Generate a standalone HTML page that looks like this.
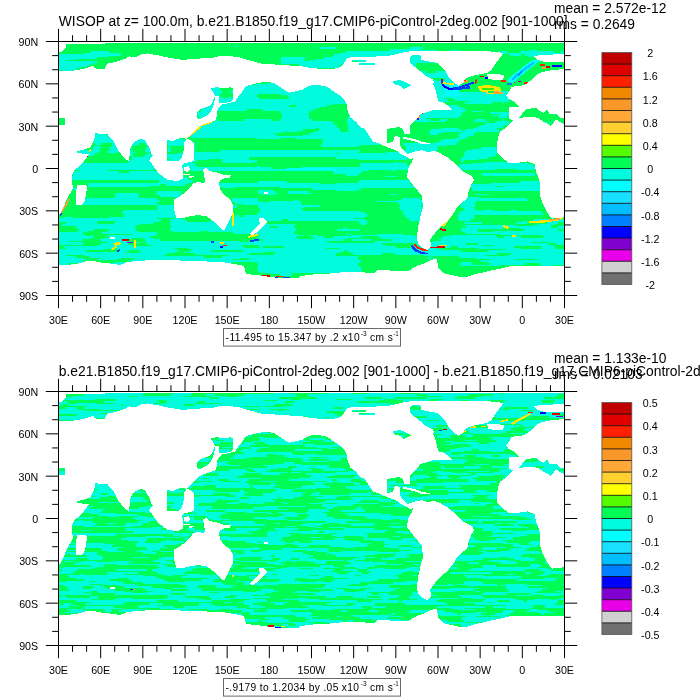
<!DOCTYPE html>
<html><head><meta charset="utf-8"><style>
html,body{margin:0;padding:0;background:#fff;width:700px;height:700px;overflow:hidden}
svg{display:block}
</style></head><body>
<svg width="700" height="700" viewBox="0 0 700 700" >
<rect width="700" height="700" fill="#fff"/>
<g transform="translate(0,0)"><svg x="59" y="42" width="505.5" height="253.5" viewBox="59 42 505.5 253.5" overflow="hidden" shape-rendering="crispEdges"><defs><clipPath id="Tt0"><rect x="59" y="42" width="100" height="80"/></clipPath><clipPath id="Tt1"><rect x="159" y="42" width="100" height="80"/></clipPath><clipPath id="Tt2"><rect x="259" y="42" width="100" height="80"/></clipPath><clipPath id="Tt3"><rect x="359" y="42" width="100" height="80"/></clipPath><clipPath id="Tt4"><rect x="459" y="42" width="107" height="80"/></clipPath><clipPath id="Tt5"><rect x="59" y="120" width="100" height="80"/></clipPath><clipPath id="Tt6"><rect x="159" y="120" width="100" height="80"/></clipPath><clipPath id="Tt7"><rect x="259" y="120" width="100" height="80"/></clipPath><clipPath id="Tt8"><rect x="359" y="120" width="100" height="80"/></clipPath><clipPath id="Tt9"><rect x="459" y="120" width="107" height="80"/></clipPath><clipPath id="Tt10"><rect x="59" y="198" width="100" height="80"/></clipPath><clipPath id="Tt11"><rect x="159" y="198" width="100" height="80"/></clipPath><clipPath id="Tt12"><rect x="259" y="198" width="100" height="80"/></clipPath><clipPath id="Tt13"><rect x="359" y="198" width="100" height="80"/></clipPath><clipPath id="Tt14"><rect x="459" y="198" width="107" height="80"/></clipPath><mask id="Tm" maskUnits="userSpaceOnUse" x="0" y="0" width="700" height="700"><rect x="0" y="0" width="700" height="700" fill="#fff"/><polygon points="211.1,88.4 217.6,87.0 220.4,88.4 230.4,87.4 233.0,88.0 233.0,99.0 231.0,101.5 222.0,103.5 219.0,103.0 218.5,96.0 215.0,96.0 213.0,92.0 211.0,89.0" fill="#000"/><polygon points="215.5,96.0 214.5,101.0 213.5,105.0 212.0,109.0 210.0,112.5 207.0,115.5 203.0,117.5 199.0,119.5 197.0,118.0 197.0,113.0 200.0,109.0 204.0,108.0 209.0,106.0 212.0,103.0 214.0,98.0" fill="#000"/><polygon points="167.0,140.0 173.0,141.0 180.0,138.0 185.0,138.0 186.0,140.0 184.0,143.0 183.7,150.0 182.0,157.0 179.0,160.7 167.0,160.7" fill="#000"/><polygon points="392.9,81.4 400.0,80.0 407.1,82.9 411.4,85.7 407.1,87.1 404.3,89.3 400.0,85.7 394.3,84.3" fill="#000"/><polygon points="352.0,60.5 366.0,60.3 366.0,61.5 352.0,61.7" fill="#000"/><polygon points="359.0,63.4 375.0,63.2 375.0,64.6 359.0,64.8" fill="#000"/><polygon points="519.3,117.7 525.4,109.6 535.6,107.5 538.6,110.6 543.7,112.6 547.7,109.6 549.8,114.6 555.9,113.6 559.9,117.7 566.0,117.7 566.0,124.8 555.9,119.7 550.8,125.8 543.7,121.7 537.6,117.7 530.5,116.7 521.4,117.7" fill="#000"/><polygon points="58.0,117.7 64.7,117.7 64.7,124.9 58.0,124.9" fill="#000"/></mask></defs><rect x="58" y="41" width="508" height="256" fill="#00fc55"/><path d="M304.8 41.60h4.2v1.41h-4.2zM233.1 45.83h4.2v1.41h-4.2zM318.8 47.24h16.9v1.41h-16.9zM410.2 47.24h12.6v1.41h-12.6zM390.5 48.66h29.5v1.41h-29.5zM389.1 50.07h46.4v1.41h-46.4zM450.9 50.07h7.0v1.41h-7.0zM529.7 50.07h7.0v1.41h-7.0zM91.1 51.48h18.3v1.41h-18.3zM345.5 51.48h113.8v1.41h-113.8zM498.7 51.48h8.4v1.41h-8.4zM521.2 51.48h32.3v1.41h-32.3zM560.6 51.48h4.2v1.41h-4.2zM84.1 52.89h35.1v1.41h-35.1zM338.5 52.89h119.5v1.41h-119.5zM497.3 52.89h67.5v1.41h-67.5zM58.8 54.30h61.8v1.41h-61.8zM334.3 54.30h123.7v1.41h-123.7zM510.0 54.30h11.2v1.41h-11.2zM525.4 54.30h39.4v1.41h-39.4zM58.8 55.71h50.6v1.41h-50.6zM331.5 55.71h127.9v1.41h-127.9zM528.3 55.71h36.5v1.41h-36.5zM58.8 57.12h37.9v1.41h-37.9zM280.9 57.12h23.9v1.41h-23.9zM324.4 57.12h133.5v1.41h-133.5zM58.8 58.53h16.9v1.41h-16.9zM280.9 58.53h23.9v1.41h-23.9zM317.4 58.53h140.6v1.41h-140.6zM58.8 59.94h7.0v1.41h-7.0zM280.9 59.94h22.5v1.41h-22.5zM310.4 59.94h147.6v1.41h-147.6zM58.8 61.36h37.9v1.41h-37.9zM280.9 61.36h67.5v1.41h-67.5zM358.2 61.36h101.2v1.41h-101.2zM58.8 62.77h35.1v1.41h-35.1zM280.9 62.77h66.1v1.41h-66.1zM358.2 62.77h57.6v1.41h-57.6zM439.7 62.77h18.3v1.41h-18.3zM58.8 64.18h30.9v1.41h-30.9zM235.9 64.18h11.2v1.41h-11.2zM299.1 64.18h42.2v1.41h-42.2zM359.6 64.18h56.2v1.41h-56.2zM442.5 64.18h16.9v1.41h-16.9zM58.8 65.59h26.7v1.41h-26.7zM238.7 65.59h16.9v1.41h-16.9zM304.8 65.59h33.7v1.41h-33.7zM363.8 65.59h4.2v1.41h-4.2zM376.5 65.59h39.4v1.41h-39.4zM441.1 65.59h19.7v1.41h-19.7zM58.8 67.00h22.5v1.41h-22.5zM306.2 67.00h32.3v1.41h-32.3zM443.9 67.00h14.1v1.41h-14.1zM58.8 68.41h18.3v1.41h-18.3zM446.7 68.41h11.2v1.41h-11.2zM61.6 69.82h11.2v1.41h-11.2zM414.4 69.82h2.8v1.41h-2.8zM445.3 69.82h12.6v1.41h-12.6zM106.6 71.23h1.4v1.41h-1.4zM411.6 71.23h14.1v1.41h-14.1zM435.5 71.23h22.5v1.41h-22.5zM413.0 72.64h45.0v1.41h-45.0zM413.0 74.06h46.4v1.41h-46.4zM414.4 75.47h45.0v1.41h-45.0zM411.6 76.88h46.4v1.41h-46.4zM389.1 78.29h42.2v1.41h-42.2zM445.3 78.29h12.6v1.41h-12.6zM390.5 79.70h46.4v1.41h-46.4zM443.9 79.70h12.6v1.41h-12.6zM71.4 81.11h8.4v1.41h-8.4zM391.9 81.11h66.1v1.41h-66.1zM68.6 82.52h18.3v1.41h-18.3zM266.8 82.52h92.8v1.41h-92.8zM391.9 82.52h67.5v1.41h-67.5zM255.6 83.93h105.4v1.41h-105.4zM391.9 83.93h68.9v1.41h-68.9zM213.4 85.34h4.2v1.41h-4.2zM234.5 85.34h125.1v1.41h-125.1zM389.1 85.34h71.7v1.41h-71.7zM207.8 86.76h14.1v1.41h-14.1zM235.9 86.76h122.3v1.41h-122.3zM390.5 86.76h68.9v1.41h-68.9zM210.6 88.17h9.8v1.41h-9.8zM233.1 88.17h123.7v1.41h-123.7zM391.9 88.17h66.1v1.41h-66.1zM75.7 89.58h15.5v1.41h-15.5zM210.6 89.58h9.8v1.41h-9.8zM231.7 89.58h127.9v1.41h-127.9zM398.9 89.58h57.6v1.41h-57.6zM84.1 90.99h8.4v1.41h-8.4zM207.8 90.99h15.5v1.41h-15.5zM228.9 90.99h132.1v1.41h-132.1zM413.0 90.99h46.4v1.41h-46.4zM484.7 90.99h23.9v1.41h-23.9zM210.6 92.40h11.2v1.41h-11.2zM231.7 92.40h129.3v1.41h-129.3zM413.0 92.40h97.0v1.41h-97.0zM212.0 93.81h7.0v1.41h-7.0zM233.1 93.81h23.9v1.41h-23.9zM279.5 93.81h78.7v1.41h-78.7zM411.6 93.81h98.4v1.41h-98.4zM212.0 95.22h8.4v1.41h-8.4zM233.1 95.22h23.9v1.41h-23.9zM286.5 95.22h71.7v1.41h-71.7zM408.8 95.22h101.2v1.41h-101.2zM210.6 96.63h12.6v1.41h-12.6zM228.9 96.63h29.5v1.41h-29.5zM289.3 96.63h68.9v1.41h-68.9zM398.9 96.63h111.0v1.41h-111.0zM82.7 98.04h12.6v1.41h-12.6zM212.0 98.04h47.8v1.41h-47.8zM289.3 98.04h67.5v1.41h-67.5zM411.6 98.04h32.3v1.41h-32.3zM452.4 98.04h57.6v1.41h-57.6zM212.0 99.46h146.2v1.41h-146.2zM414.4 99.46h33.7v1.41h-33.7zM455.2 99.46h53.4v1.41h-53.4zM210.6 100.87h147.6v1.41h-147.6zM417.2 100.87h32.3v1.41h-32.3zM469.2 100.87h39.4v1.41h-39.4zM202.2 102.28h157.4v1.41h-157.4zM465.0 102.28h26.7v1.41h-26.7zM503.0 102.28h1.4v1.41h-1.4zM88.3 103.69h11.2v1.41h-11.2zM199.4 103.69h133.5v1.41h-133.5zM346.9 103.69h11.2v1.41h-11.2zM435.5 103.69h7.0v1.41h-7.0zM197.9 105.10h19.7v1.41h-19.7zM220.4 105.10h68.9v1.41h-68.9zM296.3 105.10h30.9v1.41h-30.9zM351.2 105.10h7.0v1.41h-7.0zM427.1 105.10h30.9v1.41h-30.9zM196.5 106.51h123.7v1.41h-123.7zM349.8 106.51h7.0v1.41h-7.0zM429.9 106.51h32.3v1.41h-32.3zM119.2 107.92h9.8v1.41h-9.8zM197.9 107.92h119.5v1.41h-119.5zM346.9 107.92h12.6v1.41h-12.6zM431.3 107.92h32.3v1.41h-32.3zM522.6 107.92h2.8v1.41h-2.8zM200.8 109.33h46.4v1.41h-46.4zM262.6 109.33h50.6v1.41h-50.6zM348.3 109.33h12.6v1.41h-12.6zM422.8 109.33h43.6v1.41h-43.6zM200.8 110.74h14.1v1.41h-14.1zM280.9 110.74h29.5v1.41h-29.5zM349.8 110.74h9.8v1.41h-9.8zM415.8 110.74h49.2v1.41h-49.2zM472.0 110.74h11.2v1.41h-11.2zM196.5 112.16h19.7v1.41h-19.7zM280.9 112.16h28.1v1.41h-28.1zM349.8 112.16h9.8v1.41h-9.8zM417.2 112.16h45.0v1.41h-45.0zM490.3 112.16h19.7v1.41h-19.7zM196.5 113.57h21.1v1.41h-21.1zM280.9 113.57h26.7v1.41h-26.7zM351.2 113.57h7.0v1.41h-7.0zM373.6 113.57h12.6v1.41h-12.6zM414.4 113.57h47.8v1.41h-47.8zM500.1 113.57h8.4v1.41h-8.4zM197.9 114.98h19.7v1.41h-19.7zM282.3 114.98h26.7v1.41h-26.7zM349.8 114.98h9.8v1.41h-9.8zM413.0 114.98h47.8v1.41h-47.8zM491.7 114.98h18.3v1.41h-18.3zM199.4 116.39h16.9v1.41h-16.9zM282.3 116.39h26.7v1.41h-26.7zM348.3 116.39h12.6v1.41h-12.6zM415.8 116.39h43.6v1.41h-43.6zM498.7 116.39h8.4v1.41h-8.4zM199.4 117.80h16.9v1.41h-16.9zM280.9 117.80h28.1v1.41h-28.1zM348.3 117.80h12.6v1.41h-12.6zM414.4 117.80h11.2v1.41h-11.2zM197.9 119.21h19.7v1.41h-19.7zM244.3 119.21h26.7v1.41h-26.7zM279.5 119.21h32.3v1.41h-32.3zM346.9 119.21h16.9v1.41h-16.9zM413.0 119.21h16.9v1.41h-16.9zM439.7 119.21h7.0v1.41h-7.0zM474.8 119.21h9.8v1.41h-9.8zM501.5 119.21h2.8v1.41h-2.8zM113.6 120.62h4.2v1.41h-4.2zM192.3 120.62h139.1v1.41h-139.1zM345.5 120.62h19.7v1.41h-19.7zM415.8 120.62h29.5v1.41h-29.5zM473.4 120.62h15.5v1.41h-15.5zM497.3 120.62h11.2v1.41h-11.2zM190.9 122.03h142.0v1.41h-142.0zM348.3 122.03h12.6v1.41h-12.6zM494.5 122.03h14.1v1.41h-14.1zM543.7 122.03h8.4v1.41h-8.4zM189.5 123.44h144.8v1.41h-144.8zM348.3 123.44h11.2v1.41h-11.2zM484.7 123.44h23.9v1.41h-23.9zM58.8 124.86h4.2v1.41h-4.2zM189.5 124.86h146.2v1.41h-146.2zM346.9 124.86h15.5v1.41h-15.5zM480.5 124.86h23.9v1.41h-23.9zM553.6 124.86h11.2v1.41h-11.2zM188.1 126.27h149.0v1.41h-149.0zM348.3 126.27h15.5v1.41h-15.5zM477.7 126.27h25.3v1.41h-25.3zM188.1 127.68h126.5v1.41h-126.5zM318.8 127.68h19.7v1.41h-19.7zM348.3 127.68h30.9v1.41h-30.9zM441.1 127.68h16.9v1.41h-16.9zM473.4 127.68h22.5v1.41h-22.5zM189.5 129.09h113.8v1.41h-113.8zM318.8 129.09h21.1v1.41h-21.1zM348.3 129.09h33.7v1.41h-33.7zM431.3 129.09h29.5v1.41h-29.5zM465.0 129.09h33.7v1.41h-33.7zM186.7 130.50h111.0v1.41h-111.0zM317.4 130.50h23.9v1.41h-23.9zM349.8 130.50h32.3v1.41h-32.3zM428.5 130.50h70.3v1.41h-70.3zM189.5 131.91h92.8v1.41h-92.8zM313.2 131.91h67.5v1.41h-67.5zM428.5 131.91h15.5v1.41h-15.5zM462.2 131.91h14.1v1.41h-14.1zM93.9 133.32h11.2v1.41h-11.2zM189.5 133.32h85.7v1.41h-85.7zM309.0 133.32h73.1v1.41h-73.1zM429.9 133.32h8.4v1.41h-8.4zM459.4 133.32h14.1v1.41h-14.1zM92.5 134.73h16.9v1.41h-16.9zM188.1 134.73h88.5v1.41h-88.5zM303.4 134.73h77.3v1.41h-77.3zM458.0 134.73h15.5v1.41h-15.5zM91.1 136.14h22.5v1.41h-22.5zM190.9 136.14h189.7v1.41h-189.7zM459.4 136.14h8.4v1.41h-8.4zM92.5 137.56h22.5v1.41h-22.5zM257.0 137.56h23.9v1.41h-23.9zM296.3 137.56h85.7v1.41h-85.7zM455.2 137.56h9.8v1.41h-9.8zM93.9 138.97h22.5v1.41h-22.5zM129.1 138.97h22.5v1.41h-22.5zM167.0 138.97h15.5v1.41h-15.5zM323.0 138.97h57.6v1.41h-57.6zM443.9 138.97h16.9v1.41h-16.9zM93.9 140.38h22.5v1.41h-22.5zM129.1 140.38h23.9v1.41h-23.9zM164.2 140.38h28.1v1.41h-28.1zM323.0 140.38h56.2v1.41h-56.2zM439.7 140.38h19.7v1.41h-19.7zM92.5 141.79h23.9v1.41h-23.9zM129.1 141.79h21.1v1.41h-21.1zM168.4 141.79h26.7v1.41h-26.7zM323.0 141.79h57.6v1.41h-57.6zM436.9 141.79h19.7v1.41h-19.7zM95.3 143.20h5.6v1.41h-5.6zM112.2 143.20h4.2v1.41h-4.2zM127.7 143.20h11.2v1.41h-11.2zM144.5 143.20h5.6v1.41h-5.6zM168.4 143.20h26.7v1.41h-26.7zM321.6 143.20h57.6v1.41h-57.6zM403.2 143.20h53.4v1.41h-53.4zM112.2 144.61h5.6v1.41h-5.6zM127.7 144.61h7.0v1.41h-7.0zM147.3 144.61h4.2v1.41h-4.2zM168.4 144.61h26.7v1.41h-26.7zM320.2 144.61h40.8v1.41h-40.8zM404.6 144.61h42.2v1.41h-42.2zM93.9 146.02h5.6v1.41h-5.6zM110.8 146.02h8.4v1.41h-8.4zM148.8 146.02h1.4v1.41h-1.4zM186.7 146.02h8.4v1.41h-8.4zM321.6 146.02h35.1v1.41h-35.1zM404.6 146.02h33.7v1.41h-33.7zM92.5 147.43h8.4v1.41h-8.4zM109.4 147.43h11.2v1.41h-11.2zM129.1 147.43h2.8v1.41h-2.8zM145.9 147.43h7.0v1.41h-7.0zM168.4 147.43h2.8v1.41h-2.8zM188.1 147.43h7.0v1.41h-7.0zM406.0 147.43h32.3v1.41h-32.3zM480.5 147.43h18.3v1.41h-18.3zM92.5 148.84h5.6v1.41h-5.6zM110.8 148.84h8.4v1.41h-8.4zM145.9 148.84h7.0v1.41h-7.0zM168.4 148.84h1.4v1.41h-1.4zM188.1 148.84h7.0v1.41h-7.0zM406.0 148.84h32.3v1.41h-32.3zM473.4 148.84h26.7v1.41h-26.7zM78.5 150.26h21.1v1.41h-21.1zM108.0 150.26h11.2v1.41h-11.2zM129.1 150.26h4.2v1.41h-4.2zM144.5 150.26h8.4v1.41h-8.4zM168.4 150.26h2.8v1.41h-2.8zM189.5 150.26h5.6v1.41h-5.6zM220.4 150.26h139.1v1.41h-139.1zM403.2 150.26h33.7v1.41h-33.7zM466.4 150.26h32.3v1.41h-32.3zM77.1 151.67h21.1v1.41h-21.1zM108.0 151.67h9.8v1.41h-9.8zM127.7 151.67h7.0v1.41h-7.0zM147.3 151.67h2.8v1.41h-2.8zM189.5 151.67h168.7v1.41h-168.7zM386.3 151.67h49.2v1.41h-49.2zM465.0 151.67h32.3v1.41h-32.3zM77.1 153.08h18.3v1.41h-18.3zM129.1 153.08h4.2v1.41h-4.2zM176.9 153.08h158.8v1.41h-158.8zM339.9 153.08h68.9v1.41h-68.9zM463.6 153.08h33.7v1.41h-33.7zM85.5 154.49h8.4v1.41h-8.4zM129.1 154.49h4.2v1.41h-4.2zM144.5 154.49h9.8v1.41h-9.8zM167.0 154.49h240.3v1.41h-240.3zM463.6 154.49h32.3v1.41h-32.3zM130.5 155.90h2.8v1.41h-2.8zM143.1 155.90h9.8v1.41h-9.8zM167.0 155.90h241.8v1.41h-241.8zM463.6 155.90h29.5v1.41h-29.5zM131.9 157.31h18.3v1.41h-18.3zM168.4 157.31h80.1v1.41h-80.1zM335.7 157.31h75.9v1.41h-75.9zM460.8 157.31h26.7v1.41h-26.7zM131.9 158.72h19.7v1.41h-19.7zM169.8 158.72h39.4v1.41h-39.4zM221.8 158.72h26.7v1.41h-26.7zM358.2 158.72h49.2v1.41h-49.2zM460.8 158.72h16.9v1.41h-16.9zM129.1 160.13h26.7v1.41h-26.7zM167.0 160.13h29.5v1.41h-29.5zM221.8 160.13h35.1v1.41h-35.1zM460.8 160.13h2.8v1.41h-2.8zM127.7 161.54h32.3v1.41h-32.3zM165.6 161.54h26.7v1.41h-26.7zM223.2 161.54h30.9v1.41h-30.9zM394.7 161.54h4.2v1.41h-4.2zM486.1 161.54h28.1v1.41h-28.1zM72.9 162.96h120.9v1.41h-120.9zM359.6 162.96h47.8v1.41h-47.8zM473.4 162.96h54.8v1.41h-54.8zM72.9 164.37h88.5v1.41h-88.5zM164.2 164.37h30.9v1.41h-30.9zM359.6 164.37h47.8v1.41h-47.8zM459.4 164.37h73.1v1.41h-73.1zM74.3 165.78h87.1v1.41h-87.1zM165.6 165.78h32.3v1.41h-32.3zM255.6 165.78h4.2v1.41h-4.2zM359.6 165.78h49.2v1.41h-49.2zM459.4 165.78h75.9v1.41h-75.9zM72.9 167.19h87.1v1.41h-87.1zM167.0 167.19h104.0v1.41h-104.0zM302.0 167.19h108.2v1.41h-108.2zM459.4 167.19h75.9v1.41h-75.9zM74.3 168.60h80.1v1.41h-80.1zM167.0 168.60h243.2v1.41h-243.2zM462.2 168.60h32.3v1.41h-32.3zM517.0 168.60h18.3v1.41h-18.3zM79.9 170.01h28.1v1.41h-28.1zM169.8 170.01h16.9v1.41h-16.9zM190.9 170.01h178.5v1.41h-178.5zM390.5 170.01h4.2v1.41h-4.2zM74.3 171.42h45.0v1.41h-45.0zM129.1 171.42h32.3v1.41h-32.3zM332.9 171.42h29.5v1.41h-29.5zM72.9 172.83h106.8v1.41h-106.8zM334.3 172.83h25.3v1.41h-25.3zM480.5 172.83h54.8v1.41h-54.8zM72.9 174.24h108.2v1.41h-108.2zM345.5 174.24h12.6v1.41h-12.6zM481.9 174.24h53.4v1.41h-53.4zM71.4 175.66h112.4v1.41h-112.4zM384.9 175.66h11.2v1.41h-11.2zM70.0 177.07h116.7v1.41h-116.7zM70.0 178.48h118.1v1.41h-118.1zM158.6 179.89h35.1v1.41h-35.1zM359.6 179.89h52.0v1.41h-52.0zM158.6 181.30h33.7v1.41h-33.7zM258.4 181.30h28.1v1.41h-28.1zM358.2 181.30h52.0v1.41h-52.0zM519.8 181.30h21.1v1.41h-21.1zM88.3 182.71h99.8v1.41h-99.8zM219.0 182.71h101.2v1.41h-101.2zM337.1 182.71h73.1v1.41h-73.1zM490.3 182.71h52.0v1.41h-52.0zM88.3 184.12h71.7v1.41h-71.7zM165.6 184.12h19.7v1.41h-19.7zM219.0 184.12h192.6v1.41h-192.6zM470.6 184.12h70.3v1.41h-70.3zM88.3 185.53h61.8v1.41h-61.8zM219.0 185.53h194.0v1.41h-194.0zM470.6 185.53h23.9v1.41h-23.9zM503.0 185.53h36.5v1.41h-36.5zM223.2 186.94h11.2v1.41h-11.2zM279.5 186.94h136.3v1.41h-136.3zM472.0 186.94h68.9v1.41h-68.9zM67.2 188.36h11.2v1.41h-11.2zM311.8 188.36h49.2v1.41h-49.2zM472.0 188.36h70.3v1.41h-70.3zM258.4 189.77h14.1v1.41h-14.1zM337.1 189.77h19.7v1.41h-19.7zM472.0 189.77h67.5v1.41h-67.5zM157.2 191.18h23.9v1.41h-23.9zM258.4 191.18h16.9v1.41h-16.9zM287.9 191.18h19.7v1.41h-19.7zM115.0 192.59h22.5v1.41h-22.5zM155.8 192.59h25.3v1.41h-25.3zM258.4 192.59h19.7v1.41h-19.7zM287.9 192.59h25.3v1.41h-25.3zM116.4 194.00h22.5v1.41h-22.5zM157.2 194.00h23.9v1.41h-23.9zM262.6 194.00h12.6v1.41h-12.6zM389.1 194.00h8.4v1.41h-8.4zM474.8 194.00h14.1v1.41h-14.1zM115.0 195.41h23.9v1.41h-23.9zM160.0 195.41h21.1v1.41h-21.1zM113.6 196.82h25.3v1.41h-25.3zM174.1 196.82h19.7v1.41h-19.7zM459.4 196.82h19.7v1.41h-19.7zM79.9 198.23h77.3v1.41h-77.3zM231.7 198.23h26.7v1.41h-26.7zM401.8 198.23h18.3v1.41h-18.3zM458.0 198.23h68.9v1.41h-68.9zM78.5 199.64h80.1v1.41h-80.1zM203.6 199.64h12.6v1.41h-12.6zM231.7 199.64h25.3v1.41h-25.3zM293.5 199.64h4.2v1.41h-4.2zM396.1 199.64h26.7v1.41h-26.7zM458.0 199.64h70.3v1.41h-70.3zM78.5 201.06h81.5v1.41h-81.5zM205.0 201.06h8.4v1.41h-8.4zM231.7 201.06h29.5v1.41h-29.5zM269.6 201.06h30.9v1.41h-30.9zM376.5 201.06h46.4v1.41h-46.4zM459.4 201.06h16.9v1.41h-16.9zM77.1 202.47h80.1v1.41h-80.1zM234.5 202.47h66.1v1.41h-66.1zM397.5 202.47h25.3v1.41h-25.3zM462.2 202.47h12.6v1.41h-12.6zM79.9 203.88h78.7v1.41h-78.7zM241.5 203.88h60.4v1.41h-60.4zM400.3 203.88h22.5v1.41h-22.5zM460.8 203.88h15.5v1.41h-15.5zM157.2 205.29h16.9v1.41h-16.9zM233.1 205.29h4.2v1.41h-4.2zM258.4 205.29h61.8v1.41h-61.8zM400.3 205.29h21.1v1.41h-21.1zM460.8 205.29h14.1v1.41h-14.1zM157.2 206.70h16.9v1.41h-16.9zM233.1 206.70h4.2v1.41h-4.2zM258.4 206.70h46.4v1.41h-46.4zM398.9 206.70h23.9v1.41h-23.9zM460.8 206.70h12.6v1.41h-12.6zM157.2 208.11h16.9v1.41h-16.9zM259.8 208.11h42.2v1.41h-42.2zM400.3 208.11h23.9v1.41h-23.9zM463.6 208.11h11.2v1.41h-11.2zM124.9 209.52h49.2v1.41h-49.2zM259.8 209.52h43.6v1.41h-43.6zM401.8 209.52h19.7v1.41h-19.7zM465.0 209.52h12.6v1.41h-12.6zM481.9 209.52h11.2v1.41h-11.2zM510.0 209.52h5.6v1.41h-5.6zM122.0 210.93h53.4v1.41h-53.4zM259.8 210.93h99.8v1.41h-99.8zM403.2 210.93h19.7v1.41h-19.7zM460.8 210.93h80.1v1.41h-80.1zM122.0 212.34h53.4v1.41h-53.4zM258.4 212.34h106.8v1.41h-106.8zM403.2 212.34h18.3v1.41h-18.3zM459.4 212.34h82.9v1.41h-82.9zM124.9 213.76h50.6v1.41h-50.6zM257.0 213.76h111.0v1.41h-111.0zM403.2 213.76h18.3v1.41h-18.3zM459.4 213.76h84.3v1.41h-84.3zM123.5 215.17h52.0v1.41h-52.0zM234.5 215.17h4.2v1.41h-4.2zM244.3 215.17h122.3v1.41h-122.3zM404.6 215.17h18.3v1.41h-18.3zM458.0 215.17h15.5v1.41h-15.5zM63.0 216.58h9.8v1.41h-9.8zM109.4 216.58h63.2v1.41h-63.2zM212.0 216.58h16.9v1.41h-16.9zM233.1 216.58h130.7v1.41h-130.7zM406.0 216.58h16.9v1.41h-16.9zM458.0 216.58h15.5v1.41h-15.5zM58.8 217.99h98.4v1.41h-98.4zM174.1 217.99h5.6v1.41h-5.6zM210.6 217.99h143.4v1.41h-143.4zM408.8 217.99h11.2v1.41h-11.2zM458.0 217.99h16.9v1.41h-16.9zM58.8 219.40h102.6v1.41h-102.6zM169.8 219.40h15.5v1.41h-15.5zM213.4 219.40h68.9v1.41h-68.9zM287.9 219.40h77.3v1.41h-77.3zM408.8 219.40h11.2v1.41h-11.2zM459.4 219.40h11.2v1.41h-11.2zM532.5 219.40h32.3v1.41h-32.3zM58.8 220.81h39.4v1.41h-39.4zM116.4 220.81h42.2v1.41h-42.2zM171.2 220.81h15.5v1.41h-15.5zM209.2 220.81h52.0v1.41h-52.0zM358.2 220.81h9.8v1.41h-9.8zM413.0 220.81h1.4v1.41h-1.4zM522.6 220.81h42.2v1.41h-42.2zM65.8 222.22h30.9v1.41h-30.9zM113.6 222.22h39.4v1.41h-39.4zM169.8 222.22h92.8v1.41h-92.8zM359.6 222.22h7.0v1.41h-7.0zM463.6 222.22h18.3v1.41h-18.3zM515.6 222.22h11.2v1.41h-11.2zM546.5 222.22h11.2v1.41h-11.2zM61.6 223.63h78.7v1.41h-78.7zM169.8 223.63h125.1v1.41h-125.1zM361.0 223.63h4.2v1.41h-4.2zM538.1 223.63h16.9v1.41h-16.9zM61.6 225.04h74.5v1.41h-74.5zM171.2 225.04h123.7v1.41h-123.7zM462.2 225.04h53.4v1.41h-53.4zM532.5 225.04h18.3v1.41h-18.3zM563.4 225.04h1.4v1.41h-1.4zM75.7 226.46h59.0v1.41h-59.0zM171.2 226.46h98.4v1.41h-98.4zM278.1 226.46h15.5v1.41h-15.5zM466.4 226.46h84.3v1.41h-84.3zM557.8 226.46h7.0v1.41h-7.0zM77.1 227.87h59.0v1.41h-59.0zM169.8 227.87h126.5v1.41h-126.5zM342.7 227.87h4.2v1.41h-4.2zM460.8 227.87h42.2v1.41h-42.2zM521.2 227.87h43.6v1.41h-43.6zM78.5 229.28h15.5v1.41h-15.5zM109.4 229.28h26.7v1.41h-26.7zM169.8 229.28h126.5v1.41h-126.5zM337.1 229.28h22.5v1.41h-22.5zM460.8 229.28h16.9v1.41h-16.9zM524.0 229.28h33.7v1.41h-33.7zM77.1 230.69h9.8v1.41h-9.8zM106.6 230.69h30.9v1.41h-30.9zM172.6 230.69h28.1v1.41h-28.1zM207.8 230.69h85.7v1.41h-85.7zM462.2 230.69h15.5v1.41h-15.5zM493.1 230.69h70.3v1.41h-70.3zM58.8 232.10h23.9v1.41h-23.9zM102.4 232.10h54.8v1.41h-54.8zM233.1 232.10h60.4v1.41h-60.4zM465.0 232.10h99.8v1.41h-99.8zM58.8 233.51h23.9v1.41h-23.9zM131.9 233.51h25.3v1.41h-25.3zM258.4 233.51h39.4v1.41h-39.4zM345.5 233.51h7.0v1.41h-7.0zM376.5 233.51h26.7v1.41h-26.7zM500.1 233.51h64.7v1.41h-64.7zM58.8 234.92h26.7v1.41h-26.7zM108.0 234.92h47.8v1.41h-47.8zM259.8 234.92h43.6v1.41h-43.6zM310.4 234.92h7.0v1.41h-7.0zM352.6 234.92h61.8v1.41h-61.8zM450.9 234.92h45.0v1.41h-45.0zM540.9 234.92h23.9v1.41h-23.9zM58.8 236.33h35.1v1.41h-35.1zM108.0 236.33h42.2v1.41h-42.2zM258.4 236.33h37.9v1.41h-37.9zM313.2 236.33h11.2v1.41h-11.2zM334.3 236.33h26.7v1.41h-26.7zM379.3 236.33h37.9v1.41h-37.9zM442.5 236.33h54.8v1.41h-54.8zM504.4 236.33h16.9v1.41h-16.9zM543.7 236.33h21.1v1.41h-21.1zM58.8 237.74h32.3v1.41h-32.3zM103.8 237.74h28.1v1.41h-28.1zM143.1 237.74h11.2v1.41h-11.2zM257.0 237.74h40.8v1.41h-40.8zM314.6 237.74h33.7v1.41h-33.7zM382.1 237.74h35.1v1.41h-35.1zM438.3 237.74h126.5v1.41h-126.5zM58.8 239.16h23.9v1.41h-23.9zM99.6 239.16h26.7v1.41h-26.7zM144.5 239.16h15.5v1.41h-15.5zM262.6 239.16h80.1v1.41h-80.1zM351.2 239.16h19.7v1.41h-19.7zM391.9 239.16h26.7v1.41h-26.7zM441.1 239.16h123.7v1.41h-123.7zM58.8 240.57h9.8v1.41h-9.8zM102.4 240.57h28.1v1.41h-28.1zM144.5 240.57h95.6v1.41h-95.6zM251.4 240.57h74.5v1.41h-74.5zM373.6 240.57h46.4v1.41h-46.4zM432.7 240.57h132.1v1.41h-132.1zM58.8 241.98h23.9v1.41h-23.9zM108.0 241.98h33.7v1.41h-33.7zM145.9 241.98h182.7v1.41h-182.7zM375.1 241.98h156.0v1.41h-156.0zM549.3 241.98h15.5v1.41h-15.5zM58.8 243.39h23.9v1.41h-23.9zM101.0 243.39h26.7v1.41h-26.7zM147.3 243.39h234.7v1.41h-234.7zM417.2 243.39h49.2v1.41h-49.2zM477.7 243.39h70.3v1.41h-70.3zM556.4 243.39h8.4v1.41h-8.4zM96.8 244.80h35.1v1.41h-35.1zM153.0 244.80h88.5v1.41h-88.5zM258.4 244.80h127.9v1.41h-127.9zM414.4 244.80h68.9v1.41h-68.9zM493.1 244.80h60.4v1.41h-60.4zM64.4 246.21h179.9v1.41h-179.9zM259.8 246.21h2.8v1.41h-2.8zM283.7 246.21h112.4v1.41h-112.4zM411.6 246.21h39.4v1.41h-39.4zM458.0 246.21h56.2v1.41h-56.2zM540.9 246.21h14.1v1.41h-14.1zM65.8 247.62h108.2v1.41h-108.2zM188.1 247.62h137.7v1.41h-137.7zM339.9 247.62h98.4v1.41h-98.4zM477.7 247.62h40.8v1.41h-40.8zM540.9 247.62h15.5v1.41h-15.5zM58.8 249.03h45.0v1.41h-45.0zM117.8 249.03h59.0v1.41h-59.0zM192.3 249.03h248.8v1.41h-248.8zM505.8 249.03h59.0v1.41h-59.0zM58.8 250.44h26.7v1.41h-26.7zM119.2 250.44h9.8v1.41h-9.8zM140.3 250.44h37.9v1.41h-37.9zM189.5 250.44h21.1v1.41h-21.1zM242.9 250.44h101.2v1.41h-101.2zM346.9 250.44h113.8v1.41h-113.8zM487.5 250.44h77.3v1.41h-77.3zM58.8 251.86h66.1v1.41h-66.1zM138.9 251.86h36.5v1.41h-36.5zM183.9 251.86h78.7v1.41h-78.7zM276.7 251.86h63.2v1.41h-63.2zM351.2 251.86h213.6v1.41h-213.6zM58.8 253.27h108.2v1.41h-108.2zM195.1 253.27h5.6v1.41h-5.6zM202.2 253.27h46.4v1.41h-46.4zM273.8 253.27h61.8v1.41h-61.8zM352.6 253.27h29.5v1.41h-29.5zM394.7 253.27h102.6v1.41h-102.6zM511.4 253.27h53.4v1.41h-53.4zM58.8 254.68h7.0v1.41h-7.0zM84.1 254.68h80.1v1.41h-80.1zM227.5 254.68h108.2v1.41h-108.2zM424.2 254.68h61.8v1.41h-61.8zM507.2 254.68h57.6v1.41h-57.6zM58.8 256.09h16.9v1.41h-16.9zM89.7 256.09h113.8v1.41h-113.8zM221.8 256.09h136.3v1.41h-136.3zM428.5 256.09h2.8v1.41h-2.8zM459.4 256.09h105.4v1.41h-105.4zM58.8 257.50h23.9v1.41h-23.9zM99.6 257.50h21.1v1.41h-21.1zM136.1 257.50h104.0v1.41h-104.0zM248.5 257.50h109.6v1.41h-109.6zM427.1 257.50h8.4v1.41h-8.4zM476.2 257.50h88.5v1.41h-88.5zM58.8 258.91h28.1v1.41h-28.1zM96.8 258.91h19.7v1.41h-19.7zM133.3 258.91h98.4v1.41h-98.4zM248.5 258.91h109.6v1.41h-109.6zM490.3 258.91h25.3v1.41h-25.3zM538.1 258.91h26.7v1.41h-26.7zM58.8 260.32h23.9v1.41h-23.9zM129.1 260.32h28.1v1.41h-28.1zM176.9 260.32h184.1v1.41h-184.1zM480.5 260.32h84.3v1.41h-84.3zM58.8 261.73h35.1v1.41h-35.1zM115.0 261.73h50.6v1.41h-50.6zM185.3 261.73h47.8v1.41h-47.8zM257.0 261.73h102.6v1.41h-102.6zM460.8 261.73h9.8v1.41h-9.8zM487.5 261.73h77.3v1.41h-77.3zM58.8 263.14h9.8v1.41h-9.8zM91.1 263.14h77.3v1.41h-77.3zM258.4 263.14h99.8v1.41h-99.8zM460.8 263.14h11.2v1.41h-11.2zM490.3 263.14h35.1v1.41h-35.1zM539.5 263.14h25.3v1.41h-25.3zM89.7 264.56h25.3v1.41h-25.3zM141.7 264.56h9.8v1.41h-9.8zM258.4 264.56h99.8v1.41h-99.8zM459.4 264.56h40.8v1.41h-40.8zM542.3 264.56h9.8v1.41h-9.8zM258.4 265.97h101.2v1.41h-101.2zM257.0 267.38h104.0v1.41h-104.0zM258.4 268.79h104.0v1.41h-104.0zM258.4 270.20h102.6v1.41h-102.6zM259.8 271.61h102.6v1.41h-102.6zM269.6 273.02h21.1v1.41h-21.1zM279.5 274.43h12.6v1.41h-12.6zM332.9 278.67h19.7v1.41h-19.7zM452.4 278.67h9.8v1.41h-9.8zM339.9 280.08h9.8v1.41h-9.8zM453.8 280.08h5.6v1.41h-5.6zM339.9 281.49h5.6v1.41h-5.6zM368.0 281.49h7.0v1.41h-7.0zM338.5 282.90h8.4v1.41h-8.4zM334.3 284.31h11.2v1.41h-11.2zM517.0 287.13h11.2v1.41h-11.2zM524.0 288.54h12.6v1.41h-12.6z" fill="#00fcdc"/><g clip-path="url(#Tt3)"><polygon points="444.7,84.9 459.0,84.9 459.0,96.3 444.7,96.3" fill="#00ffff"/></g><g clip-path="url(#Tt7)"><polygon points="286.1,167.9 334.7,167.9 334.7,170.0 286.1,170.0" fill="#00ffff"/></g><polyline points="455.0,88.8 462.0,86.6 469.0,84.3 474.0,82.5" fill="none" stroke="#0030ff" stroke-width="2.0"/><polygon points="478.0,86.0 488.0,85.0 500.0,87.0 501.0,91.0 496.0,94.0 487.0,93.5 479.0,90.0" fill="#ffe600"/><polygon points="482.0,88.0 494.0,87.5 494.0,89.5 482.0,90.0" fill="#30f000"/><polygon points="488.0,91.0 496.0,90.5 496.0,92.5 488.0,93.0" fill="#00fc55"/><polygon points="494.0,91.0 503.0,92.0 503.0,94.5 494.0,94.0" fill="#ffa030"/><polygon points="478.0,92.5 486.0,92.0 486.0,94.0 478.0,94.5" fill="#00fcdc"/><polygon points="475.0,80.5 477.0,79.0 477.0,83.0 475.0,84.0" fill="#ff2000"/><polygon points="480.0,76.0 484.0,75.5 484.0,77.0 480.0,77.5" fill="#e00000"/><polygon points="485.0,77.5 488.0,77.0 488.0,78.5 485.0,79.0" fill="#0000ff"/><polygon points="501.0,80.0 506.0,80.0 506.0,81.5 501.0,81.5" fill="#ff2000"/><polygon points="511.0,81.0 515.0,81.0 515.0,82.5 511.0,82.5" fill="#e00000"/><polygon points="518.0,80.5 521.0,80.5 521.0,82.0 518.0,82.0" fill="#8000d0"/><polygon points="524.0,82.0 528.0,82.0 528.0,83.5 524.0,83.5" fill="#ff2000"/><polygon points="507.0,83.0 512.0,83.0 512.0,84.5 507.0,84.5" fill="#0080ff"/><polygon points="506.0,81.0 514.0,74.0 524.0,66.0 533.0,59.5 541.0,59.5 532.0,67.0 522.0,75.0 513.0,83.0" fill="#00ffff"/><polygon points="511.0,79.0 518.0,73.0 527.0,66.0 533.0,62.0 535.0,63.0 528.0,68.0 520.0,74.0 513.0,80.0" fill="#00beff"/><polygon points="517.0,75.0 522.0,71.0 523.0,72.0 518.0,76.0" fill="#0080ff"/><polygon points="540.0,64.0 545.0,63.5 545.0,65.5 540.0,66.0" fill="#ff2000"/><polygon points="546.0,66.0 550.0,66.0 550.0,68.0 546.0,68.0" fill="#e00000"/><polygon points="552.0,65.5 562.0,65.0 562.0,67.0 552.0,67.5" fill="#0000ff"/><polygon points="542.0,67.0 546.0,67.0 546.0,69.0 542.0,69.0" fill="#ffa030"/><polygon points="441.0,79.5 443.5,78.8 443.0,82.0 441.0,85.0" fill="#8000d0"/><polygon points="443.0,83.0 445.0,85.5 449.0,87.5 453.0,88.5 453.0,90.0 448.0,89.5 444.0,87.5 442.0,85.0" fill="#0000ff"/><polygon points="453.0,87.5 462.0,87.0 470.0,86.0 470.0,88.5 462.0,89.5 453.0,90.0" fill="#0040ff"/><polygon points="455.0,81.0 462.0,80.5 468.0,79.5 468.0,82.0 462.0,83.0 455.0,83.5" fill="#ffa030"/><polygon points="463.0,79.5 466.0,79.5 466.0,81.0 463.0,81.0" fill="#ff2000"/><polygon points="443.0,82.4 454.0,82.8 454.0,84.6 443.0,84.4" fill="#ffe600"/><polygon points="419.0,79.5 421.0,79.5 421.0,81.0 419.0,81.0" fill="#ff2000"/><polygon points="425.0,80.5 427.0,80.5 427.0,82.0 425.0,82.0" fill="#0000ff"/><polygon points="430.0,81.5 432.0,81.5 432.0,83.0 430.0,83.0" fill="#e800e8"/><polygon points="425.0,109.0 433.0,107.5 433.0,109.5 426.0,111.5" fill="#ffe600"/><polygon points="418.0,112.5 425.0,110.5 424.0,113.0 419.0,115.0" fill="#ff2000"/><polygon points="417.0,115.0 420.0,114.0 420.0,118.0 417.0,119.0" fill="#ffa030"/><polygon points="417.0,118.5 419.0,118.0 419.0,120.0 417.0,120.5" fill="#8000d0"/><polygon points="200.0,124.5 210.0,121.0 215.0,118.5 216.0,120.0 211.0,123.0 201.0,126.5" fill="#ffe600"/><polygon points="206.0,122.0 208.0,121.3 208.0,122.8 206.0,123.5" fill="#ff2000"/><polygon points="188.0,136.0 195.0,130.0 200.0,126.0 201.0,127.5 196.0,131.5 189.0,137.5" fill="#ffe600"/><polygon points="122.0,239.0 129.0,239.0 129.0,240.5 122.0,240.5" fill="#e00000"/><polygon points="127.0,241.5 133.0,241.5 133.0,243.0 127.0,243.0" fill="#8000d0"/><polygon points="113.0,243.0 119.0,242.0 121.0,244.0 115.0,246.0" fill="#ffe600"/><polygon points="111.0,249.0 116.0,246.0 117.0,247.5 112.0,250.5" fill="#ffe600"/><polygon points="117.0,250.0 120.0,249.0 120.0,251.0 117.0,252.0" fill="#0040ff"/><polygon points="134.0,240.0 136.0,240.0 136.0,248.0 134.0,248.0" fill="#ffe600"/><polygon points="211.0,241.0 214.0,241.0 214.0,243.0 211.0,243.0" fill="#0040ff"/><polygon points="220.0,242.0 224.0,242.0 224.0,244.0 220.0,244.0" fill="#ffe600"/><polygon points="223.0,244.5 227.0,244.5 227.0,246.0 223.0,246.0" fill="#ff2000"/><polygon points="220.0,246.0 223.0,246.0 223.0,248.0 220.0,248.0" fill="#0000ff"/><polygon points="248.0,236.0 258.0,234.0 258.0,236.0 248.0,238.0" fill="#ffe600"/><polygon points="250.0,240.0 259.0,239.0 259.0,241.0 250.0,242.0" fill="#0040ff"/><polygon points="232.0,213.0 234.0,213.0 234.0,226.0 232.0,226.0" fill="#ffe600"/><polygon points="246.0,274.5 252.0,274.5 252.0,276.0 246.0,276.0" fill="#e00000"/><polygon points="254.0,276.0 262.0,276.0 262.0,277.5 254.0,277.5" fill="#8000d0"/><polygon points="262.0,275.0 270.0,275.0 270.0,276.5 262.0,276.5" fill="#e00000"/><polygon points="270.0,276.5 278.0,276.5 278.0,278.0 270.0,278.0" fill="#0000ff"/><polygon points="276.0,275.5 283.0,275.5 283.0,277.0 276.0,277.0" fill="#ff2000"/><polygon points="283.0,277.0 290.0,277.0 290.0,278.3 283.0,278.3" fill="#0040ff"/><polygon points="442.0,225.5 452.0,212.0 454.0,212.5 444.0,227.0" fill="#ffe600"/><polygon points="440.0,228.0 446.0,229.5 446.0,231.5 440.0,230.0" fill="#e00000"/><polygon points="415.0,243.0 418.0,247.0 424.0,249.0 428.0,249.5 428.0,251.0 422.0,250.5 416.0,248.0 414.0,245.0" fill="#ff2000"/><polygon points="412.0,244.0 416.0,249.0 422.0,252.0 428.0,253.0 427.0,254.5 420.0,253.5 414.0,251.0 411.0,246.0" fill="#0040ff"/><polygon points="429.0,247.0 445.0,246.0 445.0,247.5 429.0,248.5" fill="#e00000"/><polygon points="439.0,245.0 447.0,244.5 447.0,245.8 439.0,246.2" fill="#ffe600"/><polygon points="529.0,221.5 545.0,220.0 556.0,219.0 563.0,217.0 563.0,219.0 556.0,221.0 545.0,222.5 529.0,223.5" fill="#ffe600"/><polygon points="549.0,219.5 560.0,218.0 560.0,219.5 549.0,221.0" fill="#ffa030"/><polygon points="503.0,225.0 507.0,226.0 509.0,228.0 507.0,229.0 503.0,227.0" fill="#ffe600"/><polygon points="512.0,235.0 516.0,235.0 516.0,236.5 512.0,236.5" fill="#ffe600"/><polygon points="59.0,213.0 62.0,209.0 66.0,203.0 68.0,199.0 69.5,199.5 67.0,205.0 63.0,211.0 60.0,215.0" fill="#ffa030"/><polygon points="59.0,215.0 61.0,213.0 62.0,214.0 60.0,216.0" fill="#0040ff"/><polygon points="88.5,150.5 91.0,148.0 91.5,150.0 89.0,152.0" fill="#ffe600"/><polygon points="86.0,155.0 87.5,155.0 87.5,156.5 86.0,156.5" fill="#e00000"/><g mask="url(#Tm)"><polygon points="58.8,70.6 60.1,70.6 70.4,71.3 85.4,68.4 94.0,65.6 94.7,68.4 104.0,69.4 107.6,63.4 116.1,62.0 126.1,58.4 129.0,56.3 134.7,57.4 141.9,54.1 147.6,53.4 159.0,55.6 164.7,57.0 173.3,58.4 181.9,59.9 191.9,59.1 201.9,58.4 213.3,57.7 219.0,56.3 230.4,56.3 239.0,57.0 247.6,59.9 253.3,61.3 259.0,63.4 270.4,64.1 280.4,64.9 301.9,66.3 309.0,67.7 309.7,85.6 301.9,89.9 296.1,91.3 289.0,92.7 281.9,88.4 273.3,82.7 266.0,82.0 259.0,82.7 250.4,84.9 246.0,86.0 242.0,92.0 238.0,97.0 235.0,101.5 233.5,101.5 231.0,102.5 222.0,104.5 219.0,107.0 217.5,110.0 216.0,120.0 200.0,125.7 188.6,137.1 186.4,138.6 190.0,140.0 194.0,143.0 194.5,150.0 194.0,160.7 190.0,162.0 185.0,163.0 182.0,165.0 182.9,170.0 182.9,178.6 178.6,180.5 172.9,180.5 167.0,179.5 160.6,174.8 157.0,171.0 154.1,167.1 152.0,164.0 149.0,160.7 150.5,158.0 152.9,155.6 151.0,152.9 149.6,148.6 147.4,144.3 145.3,140.7 141.7,138.6 138.9,139.3 133.9,142.1 131.7,145.7 130.0,148.6 129.6,155.7 128.9,160.7 126.7,160.0 123.1,156.4 118.9,151.4 116.0,145.7 113.9,141.4 110.3,137.9 107.4,134.3 98.9,133.6 95.3,132.9 95.3,135.0 93.9,140.0 91.7,144.3 90.3,147.4 84.6,149.3 77.4,151.1 77.4,152.9 88.9,154.3 86.0,158.6 82.4,162.9 78.9,166.4 73.9,170.7 71.7,175.7 71.7,181.4 73.1,187.9 71.0,192.1 68.5,196.0 67.5,197.6 63.6,206.8 59.1,215.2 58.8,215.5" fill="#fff"/><polygon points="301.9,66.3 309.0,67.7 323.3,69.1 337.6,68.4 342.0,66.0 346.0,60.0 347.1,58.0 350.0,57.5 361.4,57.0 375.7,56.5 390.0,55.5 397.1,54.0 405.0,52.0 412.0,51.0 421.0,50.8 421.0,55.0 412.0,55.5 410.0,58.0 410.0,62.9 417.1,68.6 425.7,75.7 433.0,79.5 434.0,82.0 433.0,84.3 435.7,90.0 437.1,97.1 438.6,101.4 444.3,102.9 450.0,107.1 452.9,110.0 433.0,110.0 428.0,112.0 423.0,113.0 420.0,114.0 418.0,118.0 413.0,122.0 410.0,125.0 410.5,133.0 409.0,134.5 404.0,133.5 403.0,129.0 398.5,127.0 387.0,129.0 387.0,143.0 393.0,142.0 395.0,136.0 400.0,137.0 400.0,145.0 403.0,150.0 407.0,154.0 413.0,153.0 411.4,160.0 407.1,157.1 401.4,154.3 395.7,150.0 387.1,147.1 377.1,142.9 372.9,141.4 364.3,128.6 360.0,127.1 355.7,121.4 350.4,117.7 347.6,110.6 346.9,104.9 344.7,100.6 339.0,94.9 333.3,91.3 327.6,87.0 319.0,84.9 309.7,85.6" fill="#fff"/><polygon points="407.0,154.0 413.0,152.0 415.7,151.4 422.0,150.0 427.0,152.0 435.0,151.0 440.0,153.0 445.0,156.0 447.1,157.1 454.3,162.9 462.9,171.4 471.4,175.7 474.3,180.0 471.4,184.3 468.6,191.4 467.1,198.6 461.4,202.9 457.1,207.1 452.9,214.3 447.1,221.4 441.4,225.7 437.1,230.0 432.9,235.7 430.0,240.0 431.4,245.7 427.1,250.0 422.9,247.9 418.6,244.3 416.4,237.1 417.1,235.0 418.6,224.3 420.7,215.7 422.9,207.1 422.1,195.7 417.1,190.0 411.4,182.9 407.1,177.1 407.9,168.6 411.4,162.9 412.9,158.6 411.4,157.0" fill="#fff"/><polygon points="421.4,51.4 434.3,50.7 455.7,51.4 480.0,50.7 498.6,52.1 502.9,53.6 501.4,55.7 497.1,61.4 494.3,65.7 491.4,70.0 487.1,72.9 480.0,74.3 472.9,75.7 465.7,78.6 462.9,82.9 458.6,85.7 454.3,82.9 448.6,77.1 445.7,71.4 441.4,67.1 437.1,62.9 428.6,61.4 421.4,60.0 420.0,54.3" fill="#fff"/><polygon points="487.1,74.3 495.0,73.5 504.3,75.5 503.0,79.5 495.0,80.0 488.0,79.0" fill="#fff"/><polygon points="566.0,69.0 552.0,70.0 542.0,72.0 536.0,75.0 530.0,81.0 526.0,84.0 521.0,86.0 511.2,86.7 510.2,90.3 506.2,95.4 508.2,98.4 515.3,102.5 519.3,106.5 509.2,107.5 508.7,117.7 508.6,118.6 513.1,120.0 508.9,124.3 504.6,128.6 500.3,131.4 498.1,137.1 496.7,145.7 497.4,152.9 503.1,158.6 508.9,162.9 517.4,162.9 527.4,161.4 534.6,164.3 536.0,171.4 538.9,178.6 540.3,185.0 539.6,194.3 543.1,204.3 547.4,212.9 551.7,218.6 563.1,217.4 566.0,217.1" fill="#fff"/><polygon points="534.0,56.5 540.0,55.0 566.0,54.0 566.0,62.0 552.0,62.5 544.0,62.0 538.0,60.0" fill="#fff"/><polygon points="77.4,185.0 84.0,184.5 86.7,186.0 86.6,190.0 85.0,200.0 82.0,205.3 76.0,205.0 76.0,192.0" fill="#fff"/><polygon points="203.0,169.0 206.0,168.0 210.0,171.0 217.0,172.5 224.0,175.0 230.5,175.5 230.0,178.0 224.0,178.5 220.0,180.5 219.0,182.5 220.0,189.3 224.3,195.0 230.0,199.3 232.9,205.0 232.9,213.6 230.0,219.3 227.1,225.0 224.3,230.7 220.0,227.9 214.3,222.1 207.1,216.4 197.1,215.0 190.0,216.4 182.9,217.9 176.4,217.9 174.3,210.7 174.3,199.3 180.0,196.4 187.1,190.7 191.4,186.4 193.0,183.0 198.0,182.0 203.0,183.0 205.0,181.0 204.0,175.0" fill="#fff"/><polygon points="258.6,217.9 263.6,218.1 267.9,222.1 264.3,225.0 258.6,230.7 252.9,235.7 250.0,233.6 254.3,229.3 260.0,223.6" fill="#fff"/><polygon points="58.8,264.9 68.2,264.9 78.9,263.4 86.6,261.1 94.2,261.1 101.9,262.6 109.5,263.4 120.2,264.9 127.9,261.9 135.5,261.1 147.7,260.3 156.0,260.3 170.0,260.0 190.0,261.0 210.0,261.6 222.0,262.0 234.0,264.0 244.0,266.0 246.0,274.0 256.0,275.0 270.0,277.0 280.0,278.0 290.0,278.0 298.9,277.7 300.4,276.1 311.4,274.6 327.1,273.8 342.9,272.2 358.6,272.2 374.3,273.0 377.4,269.9 380.0,270.0 394.3,270.7 408.6,270.7 417.1,265.7 425.7,262.9 431.4,260.0 437.1,258.6 437.1,261.4 438.6,268.6 442.9,272.9 454.3,275.7 460.0,277.1 466.0,277.1 474.6,274.3 487.4,271.4 500.3,268.6 511.7,265.7 526.0,265.7 544.6,265.7 566.0,265.7 566.0,297.0 58.0,297.0" fill="#fff"/><polygon points="403.0,137.0 410.0,138.0 418.0,140.0 422.0,142.0 430.0,143.0 430.0,144.5 421.0,144.0 417.0,142.0 409.0,140.0 403.0,138.5" fill="#fff"/><polygon points="110.3,236.6 114.9,236.6 114.9,239.0 110.3,239.0" fill="#fff"/><polygon points="263.6,192.1 267.9,192.1 267.9,194.3 263.6,194.3" fill="#fff"/><polygon points="58.0,41.0 105.0,41.0 105.0,43.6 66.0,43.6 66.0,47.0 63.0,51.0 58.0,53.0" fill="#fff"/></g><polygon points="183.0,174.0 190.0,173.5 190.0,175.0 183.0,175.5" fill="#fff"/><polygon points="189.0,176.5 194.0,175.5 194.0,177.0 189.0,178.0" fill="#fff"/><polygon points="184.0,167.0 189.0,166.0 190.0,170.0 187.0,172.0 184.0,171.0" fill="#fff"/><rect x="59" y="42" width="506" height="1.4" fill="#fff"/></svg></g><g transform="translate(0,350)"><svg x="59" y="42" width="505.5" height="253.5" viewBox="59 42 505.5 253.5" overflow="hidden" shape-rendering="crispEdges"><defs><mask id="Bm" maskUnits="userSpaceOnUse" x="0" y="0" width="700" height="700"><rect x="0" y="0" width="700" height="700" fill="#fff"/><polygon points="211.1,88.4 217.6,87.0 220.4,88.4 230.4,87.4 233.0,88.0 233.0,99.0 231.0,101.5 222.0,103.5 219.0,103.0 218.5,96.0 215.0,96.0 213.0,92.0 211.0,89.0" fill="#000"/><polygon points="215.5,96.0 214.5,101.0 213.5,105.0 212.0,109.0 210.0,112.5 207.0,115.5 203.0,117.5 199.0,119.5 197.0,118.0 197.0,113.0 200.0,109.0 204.0,108.0 209.0,106.0 212.0,103.0 214.0,98.0" fill="#000"/><polygon points="167.0,140.0 173.0,141.0 180.0,138.0 185.0,138.0 186.0,140.0 184.0,143.0 183.7,150.0 182.0,157.0 179.0,160.7 167.0,160.7" fill="#000"/><polygon points="392.9,81.4 400.0,80.0 407.1,82.9 411.4,85.7 407.1,87.1 404.3,89.3 400.0,85.7 394.3,84.3" fill="#000"/><polygon points="352.0,60.5 366.0,60.3 366.0,61.5 352.0,61.7" fill="#000"/><polygon points="359.0,63.4 375.0,63.2 375.0,64.6 359.0,64.8" fill="#000"/><polygon points="519.3,117.7 525.4,109.6 535.6,107.5 538.6,110.6 543.7,112.6 547.7,109.6 549.8,114.6 555.9,113.6 559.9,117.7 566.0,117.7 566.0,124.8 555.9,119.7 550.8,125.8 543.7,121.7 537.6,117.7 530.5,116.7 521.4,117.7" fill="#000"/><polygon points="58.0,117.7 64.7,117.7 64.7,124.9 58.0,124.9" fill="#000"/></mask></defs><rect x="58" y="41" width="508" height="256" fill="#00fc55"/><path d="M58.8 41.60h18.3v1.41h-18.3zM117.8 41.60h32.3v1.41h-32.3zM168.4 41.60h23.9v1.41h-23.9zM202.2 41.60h29.5v1.41h-29.5zM238.7 41.60h25.3v1.41h-25.3zM306.2 41.60h46.4v1.41h-46.4zM377.9 41.60h21.1v1.41h-21.1zM418.6 41.60h146.2v1.41h-146.2zM58.8 43.01h5.6v1.41h-5.6zM88.3 43.01h56.2v1.41h-56.2zM174.1 43.01h18.3v1.41h-18.3zM273.8 43.01h15.5v1.41h-15.5zM327.3 43.01h25.3v1.41h-25.3zM366.6 43.01h32.3v1.41h-32.3zM418.6 43.01h80.1v1.41h-80.1zM504.4 43.01h60.4v1.41h-60.4zM84.1 44.42h59.0v1.41h-59.0zM171.2 44.42h19.7v1.41h-19.7zM206.4 44.42h8.4v1.41h-8.4zM244.3 44.42h52.0v1.41h-52.0zM307.6 44.42h109.6v1.41h-109.6zM427.1 44.42h40.8v1.41h-40.8zM493.1 44.42h64.7v1.41h-64.7zM72.9 45.83h56.2v1.41h-56.2zM137.5 45.83h45.0v1.41h-45.0zM210.6 45.83h15.5v1.41h-15.5zM237.3 45.83h59.0v1.41h-59.0zM310.4 45.83h112.4v1.41h-112.4zM441.1 45.83h16.9v1.41h-16.9zM481.9 45.83h73.1v1.41h-73.1zM67.2 47.24h142.0v1.41h-142.0zM217.6 47.24h61.8v1.41h-61.8zM316.0 47.24h49.2v1.41h-49.2zM382.1 47.24h12.6v1.41h-12.6zM427.1 47.24h28.1v1.41h-28.1zM476.2 47.24h67.5v1.41h-67.5zM58.8 48.66h36.5v1.41h-36.5zM115.0 48.66h175.7v1.41h-175.7zM300.6 48.66h35.1v1.41h-35.1zM351.2 48.66h32.3v1.41h-32.3zM396.1 48.66h33.7v1.41h-33.7zM442.5 48.66h122.3v1.41h-122.3zM58.8 50.07h4.2v1.41h-4.2zM116.4 50.07h40.8v1.41h-40.8zM167.0 50.07h97.0v1.41h-97.0zM276.7 50.07h102.6v1.41h-102.6zM403.2 50.07h25.3v1.41h-25.3zM436.9 50.07h23.9v1.41h-23.9zM469.2 50.07h18.3v1.41h-18.3zM505.8 50.07h36.5v1.41h-36.5zM555.0 50.07h9.8v1.41h-9.8zM58.8 51.48h8.4v1.41h-8.4zM103.8 51.48h54.8v1.41h-54.8zM167.0 51.48h30.9v1.41h-30.9zM205.0 51.48h80.1v1.41h-80.1zM293.5 51.48h63.2v1.41h-63.2zM403.2 51.48h61.8v1.41h-61.8zM472.0 51.48h16.9v1.41h-16.9zM503.0 51.48h39.4v1.41h-39.4zM553.6 51.48h11.2v1.41h-11.2zM58.8 52.89h9.8v1.41h-9.8zM77.1 52.89h19.7v1.41h-19.7zM113.6 52.89h40.8v1.41h-40.8zM164.2 52.89h30.9v1.41h-30.9zM220.4 52.89h66.1v1.41h-66.1zM287.9 52.89h101.2v1.41h-101.2zM401.8 52.89h163.0v1.41h-163.0zM58.8 54.30h2.8v1.41h-2.8zM68.6 54.30h52.0v1.41h-52.0zM123.5 54.30h60.4v1.41h-60.4zM193.7 54.30h80.1v1.41h-80.1zM292.1 54.30h111.0v1.41h-111.0zM411.6 54.30h23.9v1.41h-23.9zM442.5 54.30h33.7v1.41h-33.7zM490.3 54.30h74.5v1.41h-74.5zM86.9 55.71h157.4v1.41h-157.4zM261.2 55.71h4.2v1.41h-4.2zM285.1 55.71h120.9v1.41h-120.9zM417.2 55.71h63.2v1.41h-63.2zM500.1 55.71h60.4v1.41h-60.4zM65.8 57.12h9.8v1.41h-9.8zM84.1 57.12h43.6v1.41h-43.6zM140.3 57.12h194.0v1.41h-194.0zM342.7 57.12h63.2v1.41h-63.2zM476.2 57.12h12.6v1.41h-12.6zM493.1 57.12h11.2v1.41h-11.2zM528.3 57.12h30.9v1.41h-30.9zM58.8 58.53h19.7v1.41h-19.7zM99.6 58.53h23.9v1.41h-23.9zM140.3 58.53h19.7v1.41h-19.7zM176.9 58.53h70.3v1.41h-70.3zM259.8 58.53h9.8v1.41h-9.8zM289.3 58.53h73.1v1.41h-73.1zM373.6 58.53h37.9v1.41h-37.9zM458.0 58.53h29.5v1.41h-29.5zM508.6 58.53h56.2v1.41h-56.2zM58.8 59.94h26.7v1.41h-26.7zM143.1 59.94h134.9v1.41h-134.9zM283.7 59.94h75.9v1.41h-75.9zM369.4 59.94h54.8v1.41h-54.8zM455.2 59.94h37.9v1.41h-37.9zM495.9 59.94h25.3v1.41h-25.3zM535.3 59.94h29.5v1.41h-29.5zM58.8 61.36h59.0v1.41h-59.0zM140.3 61.36h33.7v1.41h-33.7zM179.7 61.36h18.3v1.41h-18.3zM210.6 61.36h116.7v1.41h-116.7zM369.4 61.36h73.1v1.41h-73.1zM479.1 61.36h85.7v1.41h-85.7zM58.8 62.77h42.2v1.41h-42.2zM112.2 62.77h8.4v1.41h-8.4zM136.1 62.77h18.3v1.41h-18.3zM157.2 62.77h177.1v1.41h-177.1zM366.6 62.77h88.5v1.41h-88.5zM477.7 62.77h87.1v1.41h-87.1zM77.1 64.18h64.7v1.41h-64.7zM160.0 64.18h23.9v1.41h-23.9zM200.8 64.18h136.3v1.41h-136.3zM355.4 64.18h203.8v1.41h-203.8zM58.8 65.59h73.1v1.41h-73.1zM164.2 65.59h21.1v1.41h-21.1zM200.8 65.59h12.6v1.41h-12.6zM228.9 65.59h35.1v1.41h-35.1zM269.6 65.59h35.1v1.41h-35.1zM307.6 65.59h95.6v1.41h-95.6zM425.6 65.59h47.8v1.41h-47.8zM481.9 65.59h47.8v1.41h-47.8zM549.3 65.59h15.5v1.41h-15.5zM58.8 67.00h57.6v1.41h-57.6zM171.2 67.00h14.1v1.41h-14.1zM197.9 67.00h64.7v1.41h-64.7zM289.3 67.00h35.1v1.41h-35.1zM328.7 67.00h49.2v1.41h-49.2zM427.1 67.00h54.8v1.41h-54.8zM495.9 67.00h28.1v1.41h-28.1zM549.3 67.00h15.5v1.41h-15.5zM58.8 68.41h36.5v1.41h-36.5zM110.8 68.41h23.9v1.41h-23.9zM162.8 68.41h19.7v1.41h-19.7zM205.0 68.41h7.0v1.41h-7.0zM216.2 68.41h53.4v1.41h-53.4zM304.8 68.41h40.8v1.41h-40.8zM355.4 68.41h19.7v1.41h-19.7zM400.3 68.41h56.2v1.41h-56.2zM458.0 68.41h29.5v1.41h-29.5zM72.9 69.82h23.9v1.41h-23.9zM150.2 69.82h21.1v1.41h-21.1zM179.7 69.82h30.9v1.41h-30.9zM221.8 69.82h23.9v1.41h-23.9zM306.2 69.82h18.3v1.41h-18.3zM355.4 69.82h70.3v1.41h-70.3zM439.7 69.82h61.8v1.41h-61.8zM525.4 69.82h36.5v1.41h-36.5zM58.8 71.23h63.2v1.41h-63.2zM127.7 71.23h123.7v1.41h-123.7zM279.5 71.23h42.2v1.41h-42.2zM330.1 71.23h46.4v1.41h-46.4zM384.9 71.23h179.9v1.41h-179.9zM64.4 72.64h151.8v1.41h-151.8zM217.6 72.64h37.9v1.41h-37.9zM257.0 72.64h26.7v1.41h-26.7zM292.1 72.64h269.9v1.41h-269.9zM58.8 74.06h26.7v1.41h-26.7zM103.8 74.06h174.3v1.41h-174.3zM293.5 74.06h77.3v1.41h-77.3zM394.7 74.06h52.0v1.41h-52.0zM462.2 74.06h28.1v1.41h-28.1zM521.2 74.06h43.6v1.41h-43.6zM58.8 75.47h4.2v1.41h-4.2zM79.9 75.47h21.1v1.41h-21.1zM106.6 75.47h9.8v1.41h-9.8zM161.4 75.47h75.9v1.41h-75.9zM244.3 75.47h22.5v1.41h-22.5zM293.5 75.47h63.2v1.41h-63.2zM390.5 75.47h45.0v1.41h-45.0zM460.8 75.47h14.1v1.41h-14.1zM494.5 75.47h25.3v1.41h-25.3zM522.6 75.47h42.2v1.41h-42.2zM115.0 76.88h14.1v1.41h-14.1zM219.0 76.88h5.6v1.41h-5.6zM251.4 76.88h16.9v1.41h-16.9zM318.8 76.88h53.4v1.41h-53.4zM386.3 76.88h12.6v1.41h-12.6zM425.6 76.88h12.6v1.41h-12.6zM441.1 76.88h32.3v1.41h-32.3zM498.7 76.88h15.5v1.41h-15.5zM81.3 78.29h9.8v1.41h-9.8zM102.4 78.29h29.5v1.41h-29.5zM137.5 78.29h14.1v1.41h-14.1zM183.9 78.29h11.2v1.41h-11.2zM219.0 78.29h7.0v1.41h-7.0zM250.0 78.29h61.8v1.41h-61.8zM327.3 78.29h68.9v1.41h-68.9zM417.2 78.29h8.4v1.41h-8.4zM446.7 78.29h64.7v1.41h-64.7zM525.4 78.29h11.2v1.41h-11.2zM92.5 79.70h43.6v1.41h-43.6zM147.3 79.70h12.6v1.41h-12.6zM179.7 79.70h21.1v1.41h-21.1zM213.4 79.70h5.6v1.41h-5.6zM235.9 79.70h29.5v1.41h-29.5zM283.7 79.70h23.9v1.41h-23.9zM327.3 79.70h30.9v1.41h-30.9zM394.7 79.70h9.8v1.41h-9.8zM442.5 79.70h71.7v1.41h-71.7zM525.4 79.70h11.2v1.41h-11.2zM96.8 81.11h8.4v1.41h-8.4zM110.8 81.11h29.5v1.41h-29.5zM176.9 81.11h28.1v1.41h-28.1zM212.0 81.11h11.2v1.41h-11.2zM233.1 81.11h11.2v1.41h-11.2zM255.6 81.11h11.2v1.41h-11.2zM285.1 81.11h25.3v1.41h-25.3zM324.4 81.11h18.3v1.41h-18.3zM373.6 81.11h5.6v1.41h-5.6zM390.5 81.11h26.7v1.41h-26.7zM435.5 81.11h23.9v1.41h-23.9zM469.2 81.11h36.5v1.41h-36.5zM98.2 82.52h53.4v1.41h-53.4zM171.2 82.52h33.7v1.41h-33.7zM224.7 82.52h46.4v1.41h-46.4zM282.3 82.52h22.5v1.41h-22.5zM323.0 82.52h29.5v1.41h-29.5zM372.2 82.52h7.0v1.41h-7.0zM403.2 82.52h54.8v1.41h-54.8zM473.4 82.52h26.7v1.41h-26.7zM510.0 82.52h25.3v1.41h-25.3zM61.6 83.93h28.1v1.41h-28.1zM129.1 83.93h73.1v1.41h-73.1zM214.8 83.93h32.3v1.41h-32.3zM283.7 83.93h40.8v1.41h-40.8zM375.1 83.93h5.6v1.41h-5.6zM421.4 83.93h11.2v1.41h-11.2zM442.5 83.93h29.5v1.41h-29.5zM524.0 83.93h18.3v1.41h-18.3zM58.8 85.34h39.4v1.41h-39.4zM143.1 85.34h50.6v1.41h-50.6zM228.9 85.34h22.5v1.41h-22.5zM285.1 85.34h23.9v1.41h-23.9zM373.6 85.34h30.9v1.41h-30.9zM436.9 85.34h12.6v1.41h-12.6zM465.0 85.34h8.4v1.41h-8.4zM524.0 85.34h12.6v1.41h-12.6zM63.0 86.76h29.5v1.41h-29.5zM150.2 86.76h22.5v1.41h-22.5zM231.7 86.76h8.4v1.41h-8.4zM258.4 86.76h5.6v1.41h-5.6zM337.1 86.76h64.7v1.41h-64.7zM438.3 86.76h12.6v1.41h-12.6zM488.9 86.76h23.9v1.41h-23.9zM526.8 86.76h7.0v1.41h-7.0zM60.2 88.17h1.4v1.41h-1.4zM150.2 88.17h30.9v1.41h-30.9zM217.6 88.17h21.1v1.41h-21.1zM259.8 88.17h25.3v1.41h-25.3zM310.4 88.17h14.1v1.41h-14.1zM344.1 88.17h12.6v1.41h-12.6zM375.1 88.17h33.7v1.41h-33.7zM431.3 88.17h2.8v1.41h-2.8zM491.7 88.17h60.4v1.41h-60.4zM98.2 89.58h15.5v1.41h-15.5zM136.1 89.58h32.3v1.41h-32.3zM210.6 89.58h5.6v1.41h-5.6zM224.7 89.58h15.5v1.41h-15.5zM259.8 89.58h26.7v1.41h-26.7zM292.1 89.58h12.6v1.41h-12.6zM324.4 89.58h11.2v1.41h-11.2zM355.4 89.58h7.0v1.41h-7.0zM382.1 89.58h42.2v1.41h-42.2zM465.0 89.58h11.2v1.41h-11.2zM495.9 89.58h43.6v1.41h-43.6zM71.4 90.99h12.6v1.41h-12.6zM99.6 90.99h16.9v1.41h-16.9zM129.1 90.99h39.4v1.41h-39.4zM182.5 90.99h53.4v1.41h-53.4zM252.8 90.99h57.6v1.41h-57.6zM321.6 90.99h42.2v1.41h-42.2zM373.6 90.99h47.8v1.41h-47.8zM445.3 90.99h8.4v1.41h-8.4zM497.3 90.99h9.8v1.41h-9.8zM556.4 90.99h5.6v1.41h-5.6zM58.8 92.40h7.0v1.41h-7.0zM112.2 92.40h23.9v1.41h-23.9zM195.1 92.40h25.3v1.41h-25.3zM244.3 92.40h9.8v1.41h-9.8zM265.4 92.40h36.5v1.41h-36.5zM335.7 92.40h26.7v1.41h-26.7zM380.7 92.40h4.2v1.41h-4.2zM391.9 92.40h5.6v1.41h-5.6zM450.9 92.40h28.1v1.41h-28.1zM488.9 92.40h21.1v1.41h-21.1zM529.7 92.40h1.4v1.41h-1.4zM545.1 92.40h19.7v1.41h-19.7zM58.8 93.81h12.6v1.41h-12.6zM101.0 93.81h33.7v1.41h-33.7zM148.8 93.81h9.8v1.41h-9.8zM202.2 93.81h4.2v1.41h-4.2zM240.1 93.81h15.5v1.41h-15.5zM268.2 93.81h46.4v1.41h-46.4zM332.9 93.81h64.7v1.41h-64.7zM417.2 93.81h9.8v1.41h-9.8zM445.3 93.81h8.4v1.41h-8.4zM467.8 93.81h63.2v1.41h-63.2zM553.6 93.81h11.2v1.41h-11.2zM58.8 95.22h68.9v1.41h-68.9zM137.5 95.22h32.3v1.41h-32.3zM231.7 95.22h18.3v1.41h-18.3zM304.8 95.22h36.5v1.41h-36.5zM348.3 95.22h61.8v1.41h-61.8zM425.6 95.22h11.2v1.41h-11.2zM470.6 95.22h56.2v1.41h-56.2zM536.7 95.22h28.1v1.41h-28.1zM65.8 96.63h7.0v1.41h-7.0zM96.8 96.63h36.5v1.41h-36.5zM179.7 96.63h8.4v1.41h-8.4zM221.8 96.63h18.3v1.41h-18.3zM250.0 96.63h18.3v1.41h-18.3zM317.4 96.63h14.1v1.41h-14.1zM356.8 96.63h52.0v1.41h-52.0zM462.2 96.63h94.2v1.41h-94.2zM65.8 98.04h11.2v1.41h-11.2zM93.9 98.04h7.0v1.41h-7.0zM123.5 98.04h11.2v1.41h-11.2zM203.6 98.04h14.1v1.41h-14.1zM250.0 98.04h9.8v1.41h-9.8zM327.3 98.04h9.8v1.41h-9.8zM361.0 98.04h11.2v1.41h-11.2zM383.5 98.04h16.9v1.41h-16.9zM455.2 98.04h59.0v1.41h-59.0zM519.8 98.04h9.8v1.41h-9.8zM542.3 98.04h15.5v1.41h-15.5zM58.8 99.46h11.2v1.41h-11.2zM92.5 99.46h5.6v1.41h-5.6zM119.2 99.46h19.7v1.41h-19.7zM197.9 99.46h32.3v1.41h-32.3zM241.5 99.46h15.5v1.41h-15.5zM294.9 99.46h26.7v1.41h-26.7zM365.2 99.46h8.4v1.41h-8.4zM390.5 99.46h8.4v1.41h-8.4zM449.5 99.46h22.5v1.41h-22.5zM479.1 99.46h25.3v1.41h-25.3zM524.0 99.46h40.8v1.41h-40.8zM58.8 100.87h12.6v1.41h-12.6zM92.5 100.87h137.7v1.41h-137.7zM240.1 100.87h15.5v1.41h-15.5zM348.3 100.87h30.9v1.41h-30.9zM397.5 100.87h15.5v1.41h-15.5zM446.7 100.87h16.9v1.41h-16.9zM490.3 100.87h14.1v1.41h-14.1zM519.8 100.87h45.0v1.41h-45.0zM58.8 102.28h16.9v1.41h-16.9zM101.0 102.28h32.3v1.41h-32.3zM168.4 102.28h28.1v1.41h-28.1zM213.4 102.28h16.9v1.41h-16.9zM244.3 102.28h47.8v1.41h-47.8zM354.0 102.28h30.9v1.41h-30.9zM393.3 102.28h22.5v1.41h-22.5zM438.3 102.28h12.6v1.41h-12.6zM522.6 102.28h28.1v1.41h-28.1zM556.4 102.28h8.4v1.41h-8.4zM63.0 103.69h19.7v1.41h-19.7zM96.8 103.69h14.1v1.41h-14.1zM186.7 103.69h5.6v1.41h-5.6zM214.8 103.69h1.4v1.41h-1.4zM235.9 103.69h30.9v1.41h-30.9zM275.3 103.69h19.7v1.41h-19.7zM304.8 103.69h12.6v1.41h-12.6zM369.4 103.69h11.2v1.41h-11.2zM410.2 103.69h42.2v1.41h-42.2zM459.4 103.69h52.0v1.41h-52.0zM535.3 103.69h11.2v1.41h-11.2zM58.8 105.10h15.5v1.41h-15.5zM137.5 105.10h16.9v1.41h-16.9zM181.1 105.10h23.9v1.41h-23.9zM233.1 105.10h33.7v1.41h-33.7zM283.7 105.10h80.1v1.41h-80.1zM377.9 105.10h15.5v1.41h-15.5zM406.0 105.10h30.9v1.41h-30.9zM445.3 105.10h19.7v1.41h-19.7zM476.2 105.10h15.5v1.41h-15.5zM500.1 105.10h15.5v1.41h-15.5zM562.0 105.10h2.8v1.41h-2.8zM58.8 106.51h9.8v1.41h-9.8zM136.1 106.51h12.6v1.41h-12.6zM175.5 106.51h26.7v1.41h-26.7zM233.1 106.51h16.9v1.41h-16.9zM287.9 106.51h22.5v1.41h-22.5zM327.3 106.51h25.3v1.41h-25.3zM377.9 106.51h21.1v1.41h-21.1zM483.3 106.51h35.1v1.41h-35.1zM532.5 106.51h32.3v1.41h-32.3zM60.2 107.92h36.5v1.41h-36.5zM110.8 107.92h18.3v1.41h-18.3zM161.4 107.92h9.8v1.41h-9.8zM182.5 107.92h26.7v1.41h-26.7zM230.3 107.92h15.5v1.41h-15.5zM300.6 107.92h12.6v1.41h-12.6zM317.4 107.92h22.5v1.41h-22.5zM380.7 107.92h19.7v1.41h-19.7zM421.4 107.92h4.2v1.41h-4.2zM487.5 107.92h29.5v1.41h-29.5zM533.9 107.92h16.9v1.41h-16.9zM63.0 109.33h36.5v1.41h-36.5zM136.1 109.33h74.5v1.41h-74.5zM303.4 109.33h5.6v1.41h-5.6zM328.7 109.33h12.6v1.41h-12.6zM355.4 109.33h9.8v1.41h-9.8zM383.5 109.33h15.5v1.41h-15.5zM431.3 109.33h35.1v1.41h-35.1zM64.4 110.74h19.7v1.41h-19.7zM88.3 110.74h22.5v1.41h-22.5zM126.3 110.74h14.1v1.41h-14.1zM154.4 110.74h53.4v1.41h-53.4zM221.8 110.74h7.0v1.41h-7.0zM303.4 110.74h25.3v1.41h-25.3zM348.3 110.74h15.5v1.41h-15.5zM417.2 110.74h50.6v1.41h-50.6zM515.6 110.74h8.4v1.41h-8.4zM536.7 110.74h15.5v1.41h-15.5zM67.2 112.16h68.9v1.41h-68.9zM151.6 112.16h11.2v1.41h-11.2zM167.0 112.16h15.5v1.41h-15.5zM209.2 112.16h16.9v1.41h-16.9zM283.7 112.16h9.8v1.41h-9.8zM380.7 112.16h42.2v1.41h-42.2zM439.7 112.16h23.9v1.41h-23.9zM515.6 112.16h45.0v1.41h-45.0zM58.8 113.57h1.4v1.41h-1.4zM93.9 113.57h33.7v1.41h-33.7zM144.5 113.57h12.6v1.41h-12.6zM181.1 113.57h15.5v1.41h-15.5zM203.6 113.57h25.3v1.41h-25.3zM273.8 113.57h28.1v1.41h-28.1zM351.2 113.57h14.1v1.41h-14.1zM376.5 113.57h33.7v1.41h-33.7zM474.8 113.57h14.1v1.41h-14.1zM504.4 113.57h60.4v1.41h-60.4zM106.6 114.98h26.7v1.41h-26.7zM172.6 114.98h15.5v1.41h-15.5zM207.8 114.98h32.3v1.41h-32.3zM262.6 114.98h66.1v1.41h-66.1zM372.2 114.98h5.6v1.41h-5.6zM505.8 114.98h56.2v1.41h-56.2zM113.6 116.39h30.9v1.41h-30.9zM164.2 116.39h29.5v1.41h-29.5zM266.8 116.39h21.1v1.41h-21.1zM296.3 116.39h32.3v1.41h-32.3zM356.8 116.39h2.8v1.41h-2.8zM441.1 116.39h2.8v1.41h-2.8zM463.6 116.39h16.9v1.41h-16.9zM491.7 116.39h42.2v1.41h-42.2zM543.7 116.39h19.7v1.41h-19.7zM58.8 117.80h2.8v1.41h-2.8zM106.6 117.80h59.0v1.41h-59.0zM172.6 117.80h30.9v1.41h-30.9zM247.1 117.80h29.5v1.41h-29.5zM292.1 117.80h15.5v1.41h-15.5zM317.4 117.80h25.3v1.41h-25.3zM441.1 117.80h37.9v1.41h-37.9zM507.2 117.80h57.6v1.41h-57.6zM65.8 119.21h12.6v1.41h-12.6zM131.9 119.21h8.4v1.41h-8.4zM176.9 119.21h25.3v1.41h-25.3zM228.9 119.21h16.9v1.41h-16.9zM254.2 119.21h15.5v1.41h-15.5zM292.1 119.21h19.7v1.41h-19.7zM323.0 119.21h22.5v1.41h-22.5zM401.8 119.21h21.1v1.41h-21.1zM500.1 119.21h59.0v1.41h-59.0zM58.8 120.62h29.5v1.41h-29.5zM172.6 120.62h75.9v1.41h-75.9zM255.6 120.62h9.8v1.41h-9.8zM348.3 120.62h30.9v1.41h-30.9zM410.2 120.62h4.2v1.41h-4.2zM434.1 120.62h9.8v1.41h-9.8zM466.4 120.62h23.9v1.41h-23.9zM498.7 120.62h23.9v1.41h-23.9zM535.3 120.62h29.5v1.41h-29.5zM58.8 122.03h29.5v1.41h-29.5zM112.2 122.03h1.4v1.41h-1.4zM158.6 122.03h18.3v1.41h-18.3zM195.1 122.03h91.4v1.41h-91.4zM290.7 122.03h9.8v1.41h-9.8zM335.7 122.03h46.4v1.41h-46.4zM432.7 122.03h19.7v1.41h-19.7zM494.5 122.03h28.1v1.41h-28.1zM536.7 122.03h28.1v1.41h-28.1zM58.8 123.44h8.4v1.41h-8.4zM75.7 123.44h42.2v1.41h-42.2zM145.9 123.44h14.1v1.41h-14.1zM175.5 123.44h29.5v1.41h-29.5zM217.6 123.44h26.7v1.41h-26.7zM261.2 123.44h18.3v1.41h-18.3zM306.2 123.44h75.9v1.41h-75.9zM436.9 123.44h33.7v1.41h-33.7zM476.2 123.44h88.5v1.41h-88.5zM58.8 124.86h1.4v1.41h-1.4zM82.7 124.86h16.9v1.41h-16.9zM115.0 124.86h19.7v1.41h-19.7zM141.7 124.86h18.3v1.41h-18.3zM172.6 124.86h30.9v1.41h-30.9zM217.6 124.86h23.9v1.41h-23.9zM311.8 124.86h22.5v1.41h-22.5zM356.8 124.86h11.2v1.41h-11.2zM413.0 124.86h14.1v1.41h-14.1zM442.5 124.86h4.2v1.41h-4.2zM470.6 124.86h22.5v1.41h-22.5zM505.8 124.86h59.0v1.41h-59.0zM86.9 126.27h4.2v1.41h-4.2zM115.0 126.27h28.1v1.41h-28.1zM153.0 126.27h12.6v1.41h-12.6zM186.7 126.27h50.6v1.41h-50.6zM310.4 126.27h16.9v1.41h-16.9zM354.0 126.27h19.7v1.41h-19.7zM411.6 126.27h18.3v1.41h-18.3zM436.9 126.27h11.2v1.41h-11.2zM460.8 126.27h16.9v1.41h-16.9zM504.4 126.27h19.7v1.41h-19.7zM543.7 126.27h14.1v1.41h-14.1zM126.3 127.68h18.3v1.41h-18.3zM154.4 127.68h11.2v1.41h-11.2zM197.9 127.68h2.8v1.41h-2.8zM209.2 127.68h52.0v1.41h-52.0zM297.7 127.68h75.9v1.41h-75.9zM403.2 127.68h19.7v1.41h-19.7zM438.3 127.68h12.6v1.41h-12.6zM456.6 127.68h15.5v1.41h-15.5zM501.5 127.68h5.6v1.41h-5.6zM525.4 127.68h22.5v1.41h-22.5zM130.5 129.09h5.6v1.41h-5.6zM158.6 129.09h8.4v1.41h-8.4zM192.3 129.09h25.3v1.41h-25.3zM228.9 129.09h19.7v1.41h-19.7zM289.3 129.09h42.2v1.41h-42.2zM337.1 129.09h14.1v1.41h-14.1zM362.4 129.09h7.0v1.41h-7.0zM403.2 129.09h12.6v1.41h-12.6zM467.8 129.09h8.4v1.41h-8.4zM70.0 130.50h21.1v1.41h-21.1zM92.5 130.50h5.6v1.41h-5.6zM112.2 130.50h14.1v1.41h-14.1zM161.4 130.50h18.3v1.41h-18.3zM213.4 130.50h9.8v1.41h-9.8zM238.7 130.50h7.0v1.41h-7.0zM259.8 130.50h16.9v1.41h-16.9zM327.3 130.50h23.9v1.41h-23.9zM383.5 130.50h12.6v1.41h-12.6zM469.2 130.50h26.7v1.41h-26.7zM67.2 131.91h49.2v1.41h-49.2zM133.3 131.91h21.1v1.41h-21.1zM199.4 131.91h46.4v1.41h-46.4zM311.8 131.91h19.7v1.41h-19.7zM339.9 131.91h16.9v1.41h-16.9zM389.1 131.91h7.0v1.41h-7.0zM442.5 131.91h54.8v1.41h-54.8zM508.6 131.91h45.0v1.41h-45.0zM58.8 133.32h2.8v1.41h-2.8zM72.9 133.32h4.2v1.41h-4.2zM84.1 133.32h25.3v1.41h-25.3zM133.3 133.32h16.9v1.41h-16.9zM188.1 133.32h60.4v1.41h-60.4zM271.0 133.32h4.2v1.41h-4.2zM314.6 133.32h8.4v1.41h-8.4zM354.0 133.32h5.6v1.41h-5.6zM382.1 133.32h28.1v1.41h-28.1zM415.8 133.32h74.5v1.41h-74.5zM501.5 133.32h39.4v1.41h-39.4zM547.9 133.32h16.9v1.41h-16.9zM64.4 134.73h59.0v1.41h-59.0zM169.8 134.73h35.1v1.41h-35.1zM216.2 134.73h63.2v1.41h-63.2zM306.2 134.73h19.7v1.41h-19.7zM358.2 134.73h30.9v1.41h-30.9zM418.6 134.73h39.4v1.41h-39.4zM528.3 134.73h21.1v1.41h-21.1zM61.6 136.14h67.5v1.41h-67.5zM133.3 136.14h7.0v1.41h-7.0zM169.8 136.14h22.5v1.41h-22.5zM216.2 136.14h33.7v1.41h-33.7zM252.8 136.14h21.1v1.41h-21.1zM300.6 136.14h29.5v1.41h-29.5zM345.5 136.14h77.3v1.41h-77.3zM445.3 136.14h15.5v1.41h-15.5zM507.2 136.14h11.2v1.41h-11.2zM528.3 136.14h9.8v1.41h-9.8zM77.1 137.56h66.1v1.41h-66.1zM153.0 137.56h28.1v1.41h-28.1zM255.6 137.56h23.9v1.41h-23.9zM296.3 137.56h19.7v1.41h-19.7zM348.3 137.56h32.3v1.41h-32.3zM408.8 137.56h15.5v1.41h-15.5zM98.2 138.97h42.2v1.41h-42.2zM145.9 138.97h32.3v1.41h-32.3zM276.7 138.97h18.3v1.41h-18.3zM352.6 138.97h36.5v1.41h-36.5zM428.5 138.97h32.3v1.41h-32.3zM536.7 138.97h8.4v1.41h-8.4zM58.8 140.38h2.8v1.41h-2.8zM95.3 140.38h45.0v1.41h-45.0zM148.8 140.38h35.1v1.41h-35.1zM186.7 140.38h28.1v1.41h-28.1zM240.1 140.38h4.2v1.41h-4.2zM275.3 140.38h16.9v1.41h-16.9zM379.3 140.38h11.2v1.41h-11.2zM448.1 140.38h15.5v1.41h-15.5zM474.8 140.38h12.6v1.41h-12.6zM515.6 140.38h49.2v1.41h-49.2zM58.8 141.79h9.8v1.41h-9.8zM85.5 141.79h66.1v1.41h-66.1zM169.8 141.79h11.2v1.41h-11.2zM189.5 141.79h59.0v1.41h-59.0zM272.4 141.79h32.3v1.41h-32.3zM316.0 141.79h4.2v1.41h-4.2zM369.4 141.79h2.8v1.41h-2.8zM396.1 141.79h16.9v1.41h-16.9zM477.7 141.79h23.9v1.41h-23.9zM512.8 141.79h23.9v1.41h-23.9zM553.6 141.79h11.2v1.41h-11.2zM58.8 143.20h42.2v1.41h-42.2zM108.0 143.20h21.1v1.41h-21.1zM145.9 143.20h9.8v1.41h-9.8zM195.1 143.20h18.3v1.41h-18.3zM230.3 143.20h14.1v1.41h-14.1zM262.6 143.20h39.4v1.41h-39.4zM311.8 143.20h7.0v1.41h-7.0zM349.8 143.20h21.1v1.41h-21.1zM383.5 143.20h25.3v1.41h-25.3zM448.1 143.20h57.6v1.41h-57.6zM515.6 143.20h16.9v1.41h-16.9zM549.3 143.20h15.5v1.41h-15.5zM58.8 144.61h74.5v1.41h-74.5zM147.3 144.61h8.4v1.41h-8.4zM234.5 144.61h11.2v1.41h-11.2zM262.6 144.61h40.8v1.41h-40.8zM310.4 144.61h95.6v1.41h-95.6zM429.9 144.61h42.2v1.41h-42.2zM490.3 144.61h45.0v1.41h-45.0zM559.2 144.61h5.6v1.41h-5.6zM95.3 146.02h11.2v1.41h-11.2zM158.6 146.02h28.1v1.41h-28.1zM199.4 146.02h26.7v1.41h-26.7zM234.5 146.02h66.1v1.41h-66.1zM323.0 146.02h15.5v1.41h-15.5zM390.5 146.02h18.3v1.41h-18.3zM422.8 146.02h53.4v1.41h-53.4zM487.5 146.02h49.2v1.41h-49.2zM89.7 147.43h9.8v1.41h-9.8zM116.4 147.43h26.7v1.41h-26.7zM161.4 147.43h78.7v1.41h-78.7zM248.5 147.43h30.9v1.41h-30.9zM282.3 147.43h11.2v1.41h-11.2zM316.0 147.43h19.7v1.41h-19.7zM351.2 147.43h29.5v1.41h-29.5zM390.5 147.43h82.9v1.41h-82.9zM487.5 147.43h28.1v1.41h-28.1zM521.2 147.43h16.9v1.41h-16.9zM58.8 148.84h9.8v1.41h-9.8zM126.3 148.84h18.3v1.41h-18.3zM164.2 148.84h54.8v1.41h-54.8zM221.8 148.84h50.6v1.41h-50.6zM352.6 148.84h75.9v1.41h-75.9zM515.6 148.84h16.9v1.41h-16.9zM550.7 148.84h14.1v1.41h-14.1zM58.8 150.26h14.1v1.41h-14.1zM127.7 150.26h19.7v1.41h-19.7zM165.6 150.26h50.6v1.41h-50.6zM238.7 150.26h36.5v1.41h-36.5zM325.9 150.26h35.1v1.41h-35.1zM379.3 150.26h11.2v1.41h-11.2zM396.1 150.26h22.5v1.41h-22.5zM459.4 150.26h11.2v1.41h-11.2zM515.6 150.26h18.3v1.41h-18.3zM559.2 150.26h5.6v1.41h-5.6zM98.2 151.67h35.1v1.41h-35.1zM174.1 151.67h39.4v1.41h-39.4zM230.3 151.67h32.3v1.41h-32.3zM280.9 151.67h4.2v1.41h-4.2zM321.6 151.67h35.1v1.41h-35.1zM391.9 151.67h18.3v1.41h-18.3zM458.0 151.67h32.3v1.41h-32.3zM518.4 151.67h12.6v1.41h-12.6zM546.5 151.67h16.9v1.41h-16.9zM58.8 153.08h5.6v1.41h-5.6zM174.1 153.08h25.3v1.41h-25.3zM226.1 153.08h12.6v1.41h-12.6zM247.1 153.08h18.3v1.41h-18.3zM283.7 153.08h4.2v1.41h-4.2zM309.0 153.08h15.5v1.41h-15.5zM337.1 153.08h40.8v1.41h-40.8zM397.5 153.08h12.6v1.41h-12.6zM442.5 153.08h32.3v1.41h-32.3zM479.1 153.08h14.1v1.41h-14.1zM503.0 153.08h61.8v1.41h-61.8zM58.8 154.49h11.2v1.41h-11.2zM154.4 154.49h43.6v1.41h-43.6zM321.6 154.49h30.9v1.41h-30.9zM393.3 154.49h15.5v1.41h-15.5zM439.7 154.49h46.4v1.41h-46.4zM498.7 154.49h66.1v1.41h-66.1zM58.8 155.90h35.1v1.41h-35.1zM145.9 155.90h7.0v1.41h-7.0zM171.2 155.90h40.8v1.41h-40.8zM265.4 155.90h40.8v1.41h-40.8zM321.6 155.90h15.5v1.41h-15.5zM380.7 155.90h40.8v1.41h-40.8zM432.7 155.90h22.5v1.41h-22.5zM493.1 155.90h71.7v1.41h-71.7zM64.4 157.31h25.3v1.41h-25.3zM138.9 157.31h15.5v1.41h-15.5zM171.2 157.31h40.8v1.41h-40.8zM252.8 157.31h25.3v1.41h-25.3zM325.9 157.31h7.0v1.41h-7.0zM356.8 157.31h5.6v1.41h-5.6zM429.9 157.31h18.3v1.41h-18.3zM493.1 157.31h35.1v1.41h-35.1zM64.4 158.72h40.8v1.41h-40.8zM127.7 158.72h35.1v1.41h-35.1zM175.5 158.72h111.0v1.41h-111.0zM309.0 158.72h18.3v1.41h-18.3zM354.0 158.72h9.8v1.41h-9.8zM439.7 158.72h12.6v1.41h-12.6zM71.4 160.13h30.9v1.41h-30.9zM127.7 160.13h35.1v1.41h-35.1zM179.7 160.13h26.7v1.41h-26.7zM224.7 160.13h29.5v1.41h-29.5zM307.6 160.13h21.1v1.41h-21.1zM341.3 160.13h23.9v1.41h-23.9zM425.6 160.13h39.4v1.41h-39.4zM536.7 160.13h22.5v1.41h-22.5zM58.8 161.54h40.8v1.41h-40.8zM144.5 161.54h16.9v1.41h-16.9zM192.3 161.54h32.3v1.41h-32.3zM245.7 161.54h23.9v1.41h-23.9zM278.1 161.54h16.9v1.41h-16.9zM306.2 161.54h16.9v1.41h-16.9zM431.3 161.54h1.4v1.41h-1.4zM491.7 161.54h36.5v1.41h-36.5zM552.1 161.54h12.6v1.41h-12.6zM58.8 162.96h14.1v1.41h-14.1zM91.1 162.96h23.9v1.41h-23.9zM167.0 162.96h2.8v1.41h-2.8zM196.5 162.96h30.9v1.41h-30.9zM268.2 162.96h4.2v1.41h-4.2zM280.9 162.96h46.4v1.41h-46.4zM344.1 162.96h36.5v1.41h-36.5zM429.9 162.96h15.5v1.41h-15.5zM490.3 162.96h16.9v1.41h-16.9zM511.4 162.96h18.3v1.41h-18.3zM546.5 162.96h18.3v1.41h-18.3zM98.2 164.37h39.4v1.41h-39.4zM181.1 164.37h40.8v1.41h-40.8zM283.7 164.37h14.1v1.41h-14.1zM309.0 164.37h18.3v1.41h-18.3zM348.3 164.37h42.2v1.41h-42.2zM417.2 164.37h25.3v1.41h-25.3zM500.1 164.37h63.2v1.41h-63.2zM108.0 165.78h9.8v1.41h-9.8zM137.5 165.78h8.4v1.41h-8.4zM172.6 165.78h11.2v1.41h-11.2zM207.8 165.78h9.8v1.41h-9.8zM278.1 165.78h21.1v1.41h-21.1zM307.6 165.78h19.7v1.41h-19.7zM363.8 165.78h78.7v1.41h-78.7zM473.4 165.78h18.3v1.41h-18.3zM519.8 165.78h35.1v1.41h-35.1zM71.4 167.19h21.1v1.41h-21.1zM133.3 167.19h21.1v1.41h-21.1zM171.2 167.19h22.5v1.41h-22.5zM206.4 167.19h14.1v1.41h-14.1zM254.2 167.19h30.9v1.41h-30.9zM306.2 167.19h28.1v1.41h-28.1zM366.6 167.19h61.8v1.41h-61.8zM526.8 167.19h12.6v1.41h-12.6zM136.1 168.60h22.5v1.41h-22.5zM186.7 168.60h7.0v1.41h-7.0zM210.6 168.60h19.7v1.41h-19.7zM266.8 168.60h19.7v1.41h-19.7zM303.4 168.60h49.2v1.41h-49.2zM380.7 168.60h12.6v1.41h-12.6zM400.3 168.60h16.9v1.41h-16.9zM459.4 168.60h54.8v1.41h-54.8zM531.1 168.60h21.1v1.41h-21.1zM58.8 170.01h14.1v1.41h-14.1zM78.5 170.01h4.2v1.41h-4.2zM141.7 170.01h60.4v1.41h-60.4zM217.6 170.01h2.8v1.41h-2.8zM287.9 170.01h71.7v1.41h-71.7zM410.2 170.01h2.8v1.41h-2.8zM445.3 170.01h49.2v1.41h-49.2zM497.3 170.01h42.2v1.41h-42.2zM562.0 170.01h2.8v1.41h-2.8zM58.8 171.42h2.8v1.41h-2.8zM74.3 171.42h18.3v1.41h-18.3zM137.5 171.42h11.2v1.41h-11.2zM169.8 171.42h35.1v1.41h-35.1zM221.8 171.42h32.3v1.41h-32.3zM325.9 171.42h19.7v1.41h-19.7zM407.4 171.42h28.1v1.41h-28.1zM455.2 171.42h2.8v1.41h-2.8zM477.7 171.42h4.2v1.41h-4.2zM517.0 171.42h29.5v1.41h-29.5zM560.6 171.42h4.2v1.41h-4.2zM63.0 172.83h33.7v1.41h-33.7zM106.6 172.83h9.8v1.41h-9.8zM126.3 172.83h16.9v1.41h-16.9zM228.9 172.83h26.7v1.41h-26.7zM275.3 172.83h4.2v1.41h-4.2zM306.2 172.83h21.1v1.41h-21.1zM338.5 172.83h36.5v1.41h-36.5zM390.5 172.83h8.4v1.41h-8.4zM411.6 172.83h12.6v1.41h-12.6zM452.4 172.83h9.8v1.41h-9.8zM494.5 172.83h8.4v1.41h-8.4zM507.2 172.83h56.2v1.41h-56.2zM64.4 174.24h30.9v1.41h-30.9zM110.8 174.24h1.4v1.41h-1.4zM124.9 174.24h16.9v1.41h-16.9zM228.9 174.24h36.5v1.41h-36.5zM300.6 174.24h21.1v1.41h-21.1zM351.2 174.24h22.5v1.41h-22.5zM460.8 174.24h33.7v1.41h-33.7zM514.2 174.24h4.2v1.41h-4.2zM535.3 174.24h5.6v1.41h-5.6zM84.1 175.66h49.2v1.41h-49.2zM172.6 175.66h2.8v1.41h-2.8zM285.1 175.66h11.2v1.41h-11.2zM307.6 175.66h7.0v1.41h-7.0zM387.7 175.66h18.3v1.41h-18.3zM452.4 175.66h5.6v1.41h-5.6zM469.2 175.66h53.4v1.41h-53.4zM151.6 177.07h22.5v1.41h-22.5zM314.6 177.07h7.0v1.41h-7.0zM328.7 177.07h16.9v1.41h-16.9zM390.5 177.07h11.2v1.41h-11.2zM439.7 177.07h18.3v1.41h-18.3zM476.2 177.07h52.0v1.41h-52.0zM126.3 178.48h35.1v1.41h-35.1zM186.7 178.48h8.4v1.41h-8.4zM217.6 178.48h5.6v1.41h-5.6zM235.9 178.48h23.9v1.41h-23.9zM273.8 178.48h23.9v1.41h-23.9zM344.1 178.48h29.5v1.41h-29.5zM483.3 178.48h16.9v1.41h-16.9zM81.3 179.89h8.4v1.41h-8.4zM124.9 179.89h47.8v1.41h-47.8zM189.5 179.89h35.1v1.41h-35.1zM235.9 179.89h19.7v1.41h-19.7zM278.1 179.89h14.1v1.41h-14.1zM311.8 179.89h75.9v1.41h-75.9zM481.9 179.89h29.5v1.41h-29.5zM525.4 179.89h16.9v1.41h-16.9zM58.8 181.30h11.2v1.41h-11.2zM133.3 181.30h40.8v1.41h-40.8zM193.7 181.30h54.8v1.41h-54.8zM268.2 181.30h50.6v1.41h-50.6zM324.4 181.30h60.4v1.41h-60.4zM396.1 181.30h12.6v1.41h-12.6zM420.0 181.30h18.3v1.41h-18.3zM491.7 181.30h73.1v1.41h-73.1zM58.8 182.71h194.0v1.41h-194.0zM266.8 182.71h19.7v1.41h-19.7zM300.6 182.71h29.5v1.41h-29.5zM337.1 182.71h28.1v1.41h-28.1zM401.8 182.71h22.5v1.41h-22.5zM455.2 182.71h19.7v1.41h-19.7zM514.2 182.71h50.6v1.41h-50.6zM61.6 184.12h54.8v1.41h-54.8zM172.6 184.12h16.9v1.41h-16.9zM266.8 184.12h23.9v1.41h-23.9zM331.5 184.12h36.5v1.41h-36.5zM414.4 184.12h25.3v1.41h-25.3zM453.8 184.12h11.2v1.41h-11.2zM491.7 184.12h35.1v1.41h-35.1zM542.3 184.12h14.1v1.41h-14.1zM58.8 185.53h8.4v1.41h-8.4zM145.9 185.53h18.3v1.41h-18.3zM181.1 185.53h7.0v1.41h-7.0zM221.8 185.53h7.0v1.41h-7.0zM266.8 185.53h22.5v1.41h-22.5zM335.7 185.53h8.4v1.41h-8.4zM361.0 185.53h7.0v1.41h-7.0zM393.3 185.53h7.0v1.41h-7.0zM429.9 185.53h33.7v1.41h-33.7zM488.9 185.53h30.9v1.41h-30.9zM542.3 185.53h22.5v1.41h-22.5zM126.3 186.94h54.8v1.41h-54.8zM216.2 186.94h66.1v1.41h-66.1zM310.4 186.94h11.2v1.41h-11.2zM363.8 186.94h2.8v1.41h-2.8zM427.1 186.94h19.7v1.41h-19.7zM470.6 186.94h4.2v1.41h-4.2zM505.8 186.94h7.0v1.41h-7.0zM543.7 186.94h16.9v1.41h-16.9zM120.6 188.36h26.7v1.41h-26.7zM185.3 188.36h97.0v1.41h-97.0zM334.3 188.36h9.8v1.41h-9.8zM363.8 188.36h25.3v1.41h-25.3zM401.8 188.36h33.7v1.41h-33.7zM458.0 188.36h15.5v1.41h-15.5zM495.9 188.36h16.9v1.41h-16.9zM127.7 189.77h18.3v1.41h-18.3zM165.6 189.77h5.6v1.41h-5.6zM190.9 189.77h9.8v1.41h-9.8zM227.5 189.77h52.0v1.41h-52.0zM310.4 189.77h39.4v1.41h-39.4zM372.2 189.77h40.8v1.41h-40.8zM456.6 189.77h23.9v1.41h-23.9zM490.3 189.77h12.6v1.41h-12.6zM137.5 191.18h7.0v1.41h-7.0zM161.4 191.18h22.5v1.41h-22.5zM228.9 191.18h1.4v1.41h-1.4zM245.7 191.18h12.6v1.41h-12.6zM261.2 191.18h23.9v1.41h-23.9zM293.5 191.18h5.6v1.41h-5.6zM311.8 191.18h47.8v1.41h-47.8zM383.5 191.18h33.7v1.41h-33.7zM425.6 191.18h4.2v1.41h-4.2zM458.0 191.18h49.2v1.41h-49.2zM529.7 191.18h12.6v1.41h-12.6zM68.6 192.59h36.5v1.41h-36.5zM134.7 192.59h45.0v1.41h-45.0zM199.4 192.59h12.6v1.41h-12.6zM254.2 192.59h115.3v1.41h-115.3zM383.5 192.59h47.8v1.41h-47.8zM503.0 192.59h15.5v1.41h-15.5zM526.8 192.59h25.3v1.41h-25.3zM74.3 194.00h39.4v1.41h-39.4zM136.1 194.00h40.8v1.41h-40.8zM202.2 194.00h2.8v1.41h-2.8zM266.8 194.00h18.3v1.41h-18.3zM293.5 194.00h74.5v1.41h-74.5zM387.7 194.00h42.2v1.41h-42.2zM512.8 194.00h7.0v1.41h-7.0zM531.1 194.00h30.9v1.41h-30.9zM58.8 195.41h53.4v1.41h-53.4zM136.1 195.41h28.1v1.41h-28.1zM297.7 195.41h11.2v1.41h-11.2zM330.1 195.41h36.5v1.41h-36.5zM383.5 195.41h15.5v1.41h-15.5zM411.6 195.41h63.2v1.41h-63.2zM512.8 195.41h23.9v1.41h-23.9zM555.0 195.41h9.8v1.41h-9.8zM60.2 196.82h61.8v1.41h-61.8zM144.5 196.82h22.5v1.41h-22.5zM178.3 196.82h9.8v1.41h-9.8zM252.8 196.82h5.6v1.41h-5.6zM344.1 196.82h9.8v1.41h-9.8zM386.3 196.82h25.3v1.41h-25.3zM441.1 196.82h28.1v1.41h-28.1zM483.3 196.82h22.5v1.41h-22.5zM521.2 196.82h8.4v1.41h-8.4zM64.4 198.23h1.4v1.41h-1.4zM102.4 198.23h14.1v1.41h-14.1zM147.3 198.23h12.6v1.41h-12.6zM181.1 198.23h78.7v1.41h-78.7zM282.3 198.23h46.4v1.41h-46.4zM398.9 198.23h29.5v1.41h-29.5zM439.7 198.23h19.7v1.41h-19.7zM481.9 198.23h15.5v1.41h-15.5zM511.4 198.23h15.5v1.41h-15.5zM545.1 198.23h12.6v1.41h-12.6zM58.8 199.64h22.5v1.41h-22.5zM102.4 199.64h15.5v1.41h-15.5zM140.3 199.64h16.9v1.41h-16.9zM203.6 199.64h11.2v1.41h-11.2zM245.7 199.64h4.2v1.41h-4.2zM262.6 199.64h30.9v1.41h-30.9zM306.2 199.64h21.1v1.41h-21.1zM411.6 199.64h25.3v1.41h-25.3zM508.6 199.64h15.5v1.41h-15.5zM552.1 199.64h12.6v1.41h-12.6zM108.0 201.06h15.5v1.41h-15.5zM136.1 201.06h15.5v1.41h-15.5zM158.6 201.06h28.1v1.41h-28.1zM207.8 201.06h11.2v1.41h-11.2zM242.9 201.06h8.4v1.41h-8.4zM259.8 201.06h30.9v1.41h-30.9zM317.4 201.06h11.2v1.41h-11.2zM341.3 201.06h36.5v1.41h-36.5zM400.3 201.06h53.4v1.41h-53.4zM479.1 201.06h7.0v1.41h-7.0zM500.1 201.06h37.9v1.41h-37.9zM58.8 202.47h37.9v1.41h-37.9zM143.1 202.47h12.6v1.41h-12.6zM183.9 202.47h12.6v1.41h-12.6zM228.9 202.47h7.0v1.41h-7.0zM244.3 202.47h59.0v1.41h-59.0zM327.3 202.47h126.5v1.41h-126.5zM483.3 202.47h57.6v1.41h-57.6zM556.4 202.47h8.4v1.41h-8.4zM58.8 203.88h7.0v1.41h-7.0zM71.4 203.88h25.3v1.41h-25.3zM190.9 203.88h26.7v1.41h-26.7zM235.9 203.88h71.7v1.41h-71.7zM332.9 203.88h40.8v1.41h-40.8zM396.1 203.88h11.2v1.41h-11.2zM439.7 203.88h22.5v1.41h-22.5zM479.1 203.88h45.0v1.41h-45.0zM549.3 203.88h15.5v1.41h-15.5zM58.8 205.29h4.2v1.41h-4.2zM86.9 205.29h14.1v1.41h-14.1zM224.7 205.29h46.4v1.41h-46.4zM275.3 205.29h37.9v1.41h-37.9zM335.7 205.29h29.5v1.41h-29.5zM394.7 205.29h14.1v1.41h-14.1zM455.2 205.29h66.1v1.41h-66.1zM58.8 206.70h46.4v1.41h-46.4zM131.9 206.70h16.9v1.41h-16.9zM162.8 206.70h14.1v1.41h-14.1zM193.7 206.70h46.4v1.41h-46.4zM262.6 206.70h45.0v1.41h-45.0zM359.6 206.70h15.5v1.41h-15.5zM389.1 206.70h18.3v1.41h-18.3zM452.4 206.70h46.4v1.41h-46.4zM507.2 206.70h22.5v1.41h-22.5zM556.4 206.70h8.4v1.41h-8.4zM58.8 208.11h16.9v1.41h-16.9zM88.3 208.11h14.1v1.41h-14.1zM158.6 208.11h25.3v1.41h-25.3zM195.1 208.11h18.3v1.41h-18.3zM220.4 208.11h14.1v1.41h-14.1zM261.2 208.11h11.2v1.41h-11.2zM279.5 208.11h11.2v1.41h-11.2zM299.1 208.11h16.9v1.41h-16.9zM352.6 208.11h12.6v1.41h-12.6zM380.7 208.11h15.5v1.41h-15.5zM431.3 208.11h4.2v1.41h-4.2zM453.8 208.11h29.5v1.41h-29.5zM514.2 208.11h21.1v1.41h-21.1zM563.4 208.11h1.4v1.41h-1.4zM154.4 209.52h11.2v1.41h-11.2zM231.7 209.52h7.0v1.41h-7.0zM276.7 209.52h67.5v1.41h-67.5zM346.9 209.52h8.4v1.41h-8.4zM455.2 209.52h18.3v1.41h-18.3zM487.5 209.52h22.5v1.41h-22.5zM519.8 209.52h15.5v1.41h-15.5zM64.4 210.93h9.8v1.41h-9.8zM82.7 210.93h14.1v1.41h-14.1zM113.6 210.93h19.7v1.41h-19.7zM153.0 210.93h16.9v1.41h-16.9zM203.6 210.93h14.1v1.41h-14.1zM238.7 210.93h30.9v1.41h-30.9zM273.8 210.93h12.6v1.41h-12.6zM290.7 210.93h5.6v1.41h-5.6zM309.0 210.93h16.9v1.41h-16.9zM345.5 210.93h18.3v1.41h-18.3zM369.4 210.93h2.8v1.41h-2.8zM406.0 210.93h42.2v1.41h-42.2zM491.7 210.93h23.9v1.41h-23.9zM58.8 212.34h2.8v1.41h-2.8zM75.7 212.34h53.4v1.41h-53.4zM160.0 212.34h12.6v1.41h-12.6zM206.4 212.34h2.8v1.41h-2.8zM266.8 212.34h14.1v1.41h-14.1zM314.6 212.34h11.2v1.41h-11.2zM351.2 212.34h35.1v1.41h-35.1zM439.7 212.34h15.5v1.41h-15.5zM467.8 212.34h11.2v1.41h-11.2zM500.1 212.34h16.9v1.41h-16.9zM545.1 212.34h19.7v1.41h-19.7zM58.8 213.76h1.4v1.41h-1.4zM74.3 213.76h30.9v1.41h-30.9zM116.4 213.76h46.4v1.41h-46.4zM182.5 213.76h4.2v1.41h-4.2zM205.0 213.76h7.0v1.41h-7.0zM216.2 213.76h22.5v1.41h-22.5zM275.3 213.76h8.4v1.41h-8.4zM346.9 213.76h54.8v1.41h-54.8zM413.0 213.76h16.9v1.41h-16.9zM449.5 213.76h8.4v1.41h-8.4zM529.7 213.76h9.8v1.41h-9.8zM549.3 213.76h15.5v1.41h-15.5zM91.1 215.17h12.6v1.41h-12.6zM157.2 215.17h9.8v1.41h-9.8zM178.3 215.17h18.3v1.41h-18.3zM202.2 215.17h30.9v1.41h-30.9zM320.2 215.17h14.1v1.41h-14.1zM344.1 215.17h30.9v1.41h-30.9zM421.4 215.17h14.1v1.41h-14.1zM481.9 215.17h14.1v1.41h-14.1zM529.7 215.17h11.2v1.41h-11.2zM555.0 215.17h8.4v1.41h-8.4zM63.0 216.58h33.7v1.41h-33.7zM160.0 216.58h50.6v1.41h-50.6zM226.1 216.58h7.0v1.41h-7.0zM245.7 216.58h29.5v1.41h-29.5zM286.5 216.58h52.0v1.41h-52.0zM355.4 216.58h11.2v1.41h-11.2zM408.8 216.58h15.5v1.41h-15.5zM448.1 216.58h8.4v1.41h-8.4zM483.3 216.58h54.8v1.41h-54.8zM60.2 217.99h32.3v1.41h-32.3zM157.2 217.99h36.5v1.41h-36.5zM241.5 217.99h14.1v1.41h-14.1zM280.9 217.99h18.3v1.41h-18.3zM313.2 217.99h11.2v1.41h-11.2zM356.8 217.99h9.8v1.41h-9.8zM375.1 217.99h9.8v1.41h-9.8zM404.6 217.99h14.1v1.41h-14.1zM438.3 217.99h19.7v1.41h-19.7zM473.4 217.99h73.1v1.41h-73.1zM61.6 219.40h15.5v1.41h-15.5zM116.4 219.40h30.9v1.41h-30.9zM151.6 219.40h40.8v1.41h-40.8zM273.8 219.40h60.4v1.41h-60.4zM342.7 219.40h14.1v1.41h-14.1zM366.6 219.40h52.0v1.41h-52.0zM469.2 219.40h56.2v1.41h-56.2zM539.5 219.40h11.2v1.41h-11.2zM58.8 220.81h15.5v1.41h-15.5zM153.0 220.81h33.7v1.41h-33.7zM265.4 220.81h47.8v1.41h-47.8zM316.0 220.81h14.1v1.41h-14.1zM352.6 220.81h5.6v1.41h-5.6zM370.8 220.81h37.9v1.41h-37.9zM413.0 220.81h25.3v1.41h-25.3zM545.1 220.81h19.7v1.41h-19.7zM58.8 222.22h14.1v1.41h-14.1zM106.6 222.22h30.9v1.41h-30.9zM157.2 222.22h26.7v1.41h-26.7zM219.0 222.22h118.1v1.41h-118.1zM348.3 222.22h14.1v1.41h-14.1zM369.4 222.22h32.3v1.41h-32.3zM424.2 222.22h18.3v1.41h-18.3zM449.5 222.22h42.2v1.41h-42.2zM525.4 222.22h5.6v1.41h-5.6zM543.7 222.22h21.1v1.41h-21.1zM79.9 223.63h2.8v1.41h-2.8zM108.0 223.63h16.9v1.41h-16.9zM161.4 223.63h39.4v1.41h-39.4zM216.2 223.63h56.2v1.41h-56.2zM278.1 223.63h120.9v1.41h-120.9zM505.8 223.63h8.4v1.41h-8.4zM540.9 223.63h8.4v1.41h-8.4zM67.2 225.04h75.9v1.41h-75.9zM167.0 225.04h5.6v1.41h-5.6zM186.7 225.04h32.3v1.41h-32.3zM231.7 225.04h15.5v1.41h-15.5zM261.2 225.04h49.2v1.41h-49.2zM318.8 225.04h36.5v1.41h-36.5zM361.0 225.04h33.7v1.41h-33.7zM413.0 225.04h4.2v1.41h-4.2zM463.6 225.04h19.7v1.41h-19.7zM538.1 225.04h8.4v1.41h-8.4zM68.6 226.46h87.1v1.41h-87.1zM181.1 226.46h36.5v1.41h-36.5zM248.5 226.46h7.0v1.41h-7.0zM266.8 226.46h57.6v1.41h-57.6zM332.9 226.46h64.7v1.41h-64.7zM466.4 226.46h54.8v1.41h-54.8zM75.7 227.87h40.8v1.41h-40.8zM127.7 227.87h32.3v1.41h-32.3zM209.2 227.87h11.2v1.41h-11.2zM251.4 227.87h43.6v1.41h-43.6zM306.2 227.87h14.1v1.41h-14.1zM346.9 227.87h52.0v1.41h-52.0zM483.3 227.87h35.1v1.41h-35.1zM543.7 227.87h14.1v1.41h-14.1zM84.1 229.28h25.3v1.41h-25.3zM130.5 229.28h33.7v1.41h-33.7zM200.8 229.28h14.1v1.41h-14.1zM252.8 229.28h2.8v1.41h-2.8zM279.5 229.28h15.5v1.41h-15.5zM334.3 229.28h43.6v1.41h-43.6zM517.0 229.28h37.9v1.41h-37.9zM65.8 230.69h23.9v1.41h-23.9zM95.3 230.69h23.9v1.41h-23.9zM133.3 230.69h35.1v1.41h-35.1zM183.9 230.69h28.1v1.41h-28.1zM235.9 230.69h19.7v1.41h-19.7zM278.1 230.69h22.5v1.41h-22.5zM316.0 230.69h7.0v1.41h-7.0zM331.5 230.69h39.4v1.41h-39.4zM406.0 230.69h19.7v1.41h-19.7zM465.0 230.69h14.1v1.41h-14.1zM58.8 232.10h64.7v1.41h-64.7zM143.1 232.10h78.7v1.41h-78.7zM244.3 232.10h115.3v1.41h-115.3zM393.3 232.10h35.1v1.41h-35.1zM463.6 232.10h19.7v1.41h-19.7zM58.8 233.51h30.9v1.41h-30.9zM102.4 233.51h32.3v1.41h-32.3zM181.1 233.51h43.6v1.41h-43.6zM244.3 233.51h33.7v1.41h-33.7zM325.9 233.51h25.3v1.41h-25.3zM368.0 233.51h43.6v1.41h-43.6zM448.1 233.51h4.2v1.41h-4.2zM456.6 233.51h40.8v1.41h-40.8zM505.8 233.51h19.7v1.41h-19.7zM563.4 233.51h1.4v1.41h-1.4zM63.0 234.92h36.5v1.41h-36.5zM117.8 234.92h19.7v1.41h-19.7zM185.3 234.92h14.1v1.41h-14.1zM214.8 234.92h19.7v1.41h-19.7zM258.4 234.92h4.2v1.41h-4.2zM325.9 234.92h21.1v1.41h-21.1zM366.6 234.92h22.5v1.41h-22.5zM431.3 234.92h23.9v1.41h-23.9zM467.8 234.92h29.5v1.41h-29.5zM500.1 234.92h42.2v1.41h-42.2zM67.2 236.33h15.5v1.41h-15.5zM93.9 236.33h9.8v1.41h-9.8zM123.5 236.33h28.1v1.41h-28.1zM186.7 236.33h9.8v1.41h-9.8zM216.2 236.33h15.5v1.41h-15.5zM324.4 236.33h64.7v1.41h-64.7zM505.8 236.33h22.5v1.41h-22.5zM67.2 237.74h15.5v1.41h-15.5zM91.1 237.74h15.5v1.41h-15.5zM143.1 237.74h19.7v1.41h-19.7zM172.6 237.74h28.1v1.41h-28.1zM265.4 237.74h2.8v1.41h-2.8zM314.6 237.74h22.5v1.41h-22.5zM348.3 237.74h11.2v1.41h-11.2zM372.2 237.74h26.7v1.41h-26.7zM449.5 237.74h28.1v1.41h-28.1zM505.8 237.74h40.8v1.41h-40.8zM68.6 239.16h45.0v1.41h-45.0zM145.9 239.16h25.3v1.41h-25.3zM188.1 239.16h14.1v1.41h-14.1zM261.2 239.16h12.6v1.41h-12.6zM332.9 239.16h11.2v1.41h-11.2zM365.2 239.16h29.5v1.41h-29.5zM427.1 239.16h46.4v1.41h-46.4zM507.2 239.16h35.1v1.41h-35.1zM58.8 240.57h32.3v1.41h-32.3zM96.8 240.57h26.7v1.41h-26.7zM151.6 240.57h91.4v1.41h-91.4zM255.6 240.57h22.5v1.41h-22.5zM294.9 240.57h14.1v1.41h-14.1zM320.2 240.57h25.3v1.41h-25.3zM358.2 240.57h32.3v1.41h-32.3zM425.6 240.57h29.5v1.41h-29.5zM474.8 240.57h5.6v1.41h-5.6zM508.6 240.57h29.5v1.41h-29.5zM556.4 240.57h8.4v1.41h-8.4zM58.8 241.98h23.9v1.41h-23.9zM98.2 241.98h32.3v1.41h-32.3zM145.9 241.98h63.2v1.41h-63.2zM219.0 241.98h53.4v1.41h-53.4zM293.5 241.98h75.9v1.41h-75.9zM413.0 241.98h5.6v1.41h-5.6zM484.7 241.98h50.6v1.41h-50.6zM562.0 241.98h2.8v1.41h-2.8zM58.8 243.39h32.3v1.41h-32.3zM115.0 243.39h56.2v1.41h-56.2zM185.3 243.39h80.1v1.41h-80.1zM314.6 243.39h57.6v1.41h-57.6zM379.3 243.39h9.8v1.41h-9.8zM411.6 243.39h21.1v1.41h-21.1zM481.9 243.39h25.3v1.41h-25.3zM529.7 243.39h35.1v1.41h-35.1zM168.4 244.80h61.8v1.41h-61.8zM237.3 244.80h15.5v1.41h-15.5zM297.7 244.80h102.6v1.41h-102.6zM411.6 244.80h25.3v1.41h-25.3zM458.0 244.80h23.9v1.41h-23.9zM515.6 244.80h15.5v1.41h-15.5zM543.7 244.80h15.5v1.41h-15.5zM60.2 246.21h5.6v1.41h-5.6zM89.7 246.21h8.4v1.41h-8.4zM168.4 246.21h16.9v1.41h-16.9zM209.2 246.21h15.5v1.41h-15.5zM234.5 246.21h35.1v1.41h-35.1zM325.9 246.21h11.2v1.41h-11.2zM352.6 246.21h14.1v1.41h-14.1zM380.7 246.21h16.9v1.41h-16.9zM408.8 246.21h16.9v1.41h-16.9zM460.8 246.21h22.5v1.41h-22.5zM58.8 247.62h39.4v1.41h-39.4zM117.8 247.62h14.1v1.41h-14.1zM165.6 247.62h30.9v1.41h-30.9zM212.0 247.62h40.8v1.41h-40.8zM297.7 247.62h8.4v1.41h-8.4zM363.8 247.62h25.3v1.41h-25.3zM410.2 247.62h49.2v1.41h-49.2zM472.0 247.62h40.8v1.41h-40.8zM560.6 247.62h4.2v1.41h-4.2zM58.8 249.03h32.3v1.41h-32.3zM113.6 249.03h90.0v1.41h-90.0zM210.6 249.03h19.7v1.41h-19.7zM250.0 249.03h15.5v1.41h-15.5zM282.3 249.03h36.5v1.41h-36.5zM382.1 249.03h7.0v1.41h-7.0zM417.2 249.03h22.5v1.41h-22.5zM484.7 249.03h32.3v1.41h-32.3zM533.9 249.03h16.9v1.41h-16.9zM556.4 249.03h8.4v1.41h-8.4zM75.7 250.44h81.5v1.41h-81.5zM178.3 250.44h33.7v1.41h-33.7zM244.3 250.44h22.5v1.41h-22.5zM299.1 250.44h57.6v1.41h-57.6zM372.2 250.44h26.7v1.41h-26.7zM401.8 250.44h35.1v1.41h-35.1zM483.3 250.44h14.1v1.41h-14.1zM510.0 250.44h12.6v1.41h-12.6zM526.8 250.44h30.9v1.41h-30.9zM89.7 251.86h36.5v1.41h-36.5zM224.7 251.86h7.0v1.41h-7.0zM237.3 251.86h21.1v1.41h-21.1zM269.6 251.86h18.3v1.41h-18.3zM331.5 251.86h66.1v1.41h-66.1zM398.9 251.86h45.0v1.41h-45.0zM463.6 251.86h23.9v1.41h-23.9zM491.7 251.86h66.1v1.41h-66.1zM64.4 253.27h7.0v1.41h-7.0zM85.5 253.27h37.9v1.41h-37.9zM148.8 253.27h14.1v1.41h-14.1zM199.4 253.27h11.2v1.41h-11.2zM244.3 253.27h8.4v1.41h-8.4zM273.8 253.27h9.8v1.41h-9.8zM327.3 253.27h19.7v1.41h-19.7zM355.4 253.27h19.7v1.41h-19.7zM404.6 253.27h42.2v1.41h-42.2zM474.8 253.27h80.1v1.41h-80.1zM58.8 254.68h18.3v1.41h-18.3zM140.3 254.68h16.9v1.41h-16.9zM197.9 254.68h16.9v1.41h-16.9zM248.5 254.68h11.2v1.41h-11.2zM303.4 254.68h18.3v1.41h-18.3zM351.2 254.68h22.5v1.41h-22.5zM505.8 254.68h26.7v1.41h-26.7zM543.7 254.68h21.1v1.41h-21.1zM58.8 256.09h9.8v1.41h-9.8zM84.1 256.09h29.5v1.41h-29.5zM137.5 256.09h36.5v1.41h-36.5zM183.9 256.09h53.4v1.41h-53.4zM248.5 256.09h16.9v1.41h-16.9zM307.6 256.09h54.8v1.41h-54.8zM372.2 256.09h14.1v1.41h-14.1zM436.9 256.09h47.8v1.41h-47.8zM493.1 256.09h39.4v1.41h-39.4zM545.1 256.09h19.7v1.41h-19.7zM82.7 257.50h39.4v1.41h-39.4zM160.0 257.50h85.7v1.41h-85.7zM285.1 257.50h78.7v1.41h-78.7zM449.5 257.50h15.5v1.41h-15.5zM505.8 257.50h23.9v1.41h-23.9zM67.2 258.91h15.5v1.41h-15.5zM103.8 258.91h7.0v1.41h-7.0zM123.5 258.91h23.9v1.41h-23.9zM172.6 258.91h15.5v1.41h-15.5zM207.8 258.91h9.8v1.41h-9.8zM231.7 258.91h28.1v1.41h-28.1zM265.4 258.91h43.6v1.41h-43.6zM314.6 258.91h19.7v1.41h-19.7zM370.8 258.91h2.8v1.41h-2.8zM458.0 258.91h16.9v1.41h-16.9zM529.7 258.91h8.4v1.41h-8.4zM70.0 260.32h15.5v1.41h-15.5zM105.2 260.32h7.0v1.41h-7.0zM119.2 260.32h19.7v1.41h-19.7zM161.4 260.32h40.8v1.41h-40.8zM241.5 260.32h12.6v1.41h-12.6zM266.8 260.32h23.9v1.41h-23.9zM341.3 260.32h5.6v1.41h-5.6zM369.4 260.32h8.4v1.41h-8.4zM410.2 260.32h33.7v1.41h-33.7zM503.0 260.32h11.2v1.41h-11.2zM526.8 260.32h21.1v1.41h-21.1zM64.4 261.73h19.7v1.41h-19.7zM127.7 261.73h19.7v1.41h-19.7zM153.0 261.73h49.2v1.41h-49.2zM248.5 261.73h63.2v1.41h-63.2zM407.4 261.73h45.0v1.41h-45.0zM476.2 261.73h9.8v1.41h-9.8zM501.5 261.73h11.2v1.41h-11.2zM538.1 261.73h15.5v1.41h-15.5zM88.3 263.14h18.3v1.41h-18.3zM127.7 263.14h33.7v1.41h-33.7zM169.8 263.14h71.7v1.41h-71.7zM250.0 263.14h61.8v1.41h-61.8zM390.5 263.14h4.2v1.41h-4.2zM429.9 263.14h26.7v1.41h-26.7zM460.8 263.14h19.7v1.41h-19.7zM494.5 263.14h15.5v1.41h-15.5zM542.3 263.14h1.4v1.41h-1.4zM58.8 264.56h11.2v1.41h-11.2zM86.9 264.56h22.5v1.41h-22.5zM147.3 264.56h37.9v1.41h-37.9zM205.0 264.56h29.5v1.41h-29.5zM293.5 264.56h16.9v1.41h-16.9zM351.2 264.56h39.4v1.41h-39.4zM439.7 264.56h46.4v1.41h-46.4zM488.9 264.56h16.9v1.41h-16.9zM58.8 265.97h12.6v1.41h-12.6zM84.1 265.97h26.7v1.41h-26.7zM151.6 265.97h4.2v1.41h-4.2zM172.6 265.97h8.4v1.41h-8.4zM296.3 265.97h22.5v1.41h-22.5zM337.1 265.97h4.2v1.41h-4.2zM354.0 265.97h47.8v1.41h-47.8zM466.4 265.97h9.8v1.41h-9.8zM500.1 265.97h8.4v1.41h-8.4zM550.7 265.97h14.1v1.41h-14.1zM58.8 267.38h4.2v1.41h-4.2zM89.7 267.38h29.5v1.41h-29.5zM120.6 267.38h14.1v1.41h-14.1zM155.8 267.38h5.6v1.41h-5.6zM227.5 267.38h7.0v1.41h-7.0zM265.4 267.38h18.3v1.41h-18.3zM304.8 267.38h7.0v1.41h-7.0zM359.6 267.38h28.1v1.41h-28.1zM462.2 267.38h77.3v1.41h-77.3zM557.8 267.38h7.0v1.41h-7.0zM58.8 268.79h21.1v1.41h-21.1zM84.1 268.79h35.1v1.41h-35.1zM123.5 268.79h15.5v1.41h-15.5zM231.7 268.79h28.1v1.41h-28.1zM269.6 268.79h19.7v1.41h-19.7zM309.0 268.79h21.1v1.41h-21.1zM372.2 268.79h28.1v1.41h-28.1zM432.7 268.79h7.0v1.41h-7.0zM462.2 268.79h75.9v1.41h-75.9zM543.7 268.79h21.1v1.41h-21.1zM58.8 270.20h15.5v1.41h-15.5zM101.0 270.20h15.5v1.41h-15.5zM129.1 270.20h14.1v1.41h-14.1zM181.1 270.20h19.7v1.41h-19.7zM230.3 270.20h28.1v1.41h-28.1zM261.2 270.20h28.1v1.41h-28.1zM306.2 270.20h36.5v1.41h-36.5zM346.9 270.20h5.6v1.41h-5.6zM383.5 270.20h26.7v1.41h-26.7zM415.8 270.20h30.9v1.41h-30.9zM463.6 270.20h68.9v1.41h-68.9zM559.2 270.20h5.6v1.41h-5.6zM58.8 271.61h15.5v1.41h-15.5zM137.5 271.61h95.6v1.41h-95.6zM268.2 271.61h40.8v1.41h-40.8zM327.3 271.61h21.1v1.41h-21.1zM376.5 271.61h33.7v1.41h-33.7zM438.3 271.61h26.7v1.41h-26.7zM481.9 271.61h12.6v1.41h-12.6zM511.4 271.61h16.9v1.41h-16.9zM556.4 271.61h8.4v1.41h-8.4zM75.7 273.02h9.8v1.41h-9.8zM143.1 273.02h75.9v1.41h-75.9zM293.5 273.02h19.7v1.41h-19.7zM332.9 273.02h7.0v1.41h-7.0zM376.5 273.02h15.5v1.41h-15.5zM398.9 273.02h7.0v1.41h-7.0zM435.5 273.02h53.4v1.41h-53.4zM507.2 273.02h19.7v1.41h-19.7zM72.9 274.43h14.1v1.41h-14.1zM92.5 274.43h12.6v1.41h-12.6zM136.1 274.43h21.1v1.41h-21.1zM162.8 274.43h12.6v1.41h-12.6zM282.3 274.43h5.6v1.41h-5.6zM296.3 274.43h16.9v1.41h-16.9zM460.8 274.43h21.1v1.41h-21.1zM71.4 275.84h50.6v1.41h-50.6zM141.7 275.84h26.7v1.41h-26.7zM271.0 275.84h77.3v1.41h-77.3zM391.9 275.84h53.4v1.41h-53.4zM462.2 275.84h21.1v1.41h-21.1zM504.4 275.84h9.8v1.41h-9.8zM70.0 277.26h57.6v1.41h-57.6zM134.7 277.26h28.1v1.41h-28.1zM257.0 277.26h9.8v1.41h-9.8zM289.3 277.26h21.1v1.41h-21.1zM317.4 277.26h33.7v1.41h-33.7zM377.9 277.26h71.7v1.41h-71.7zM476.2 277.26h5.6v1.41h-5.6zM507.2 277.26h45.0v1.41h-45.0zM68.6 278.67h35.1v1.41h-35.1zM115.0 278.67h45.0v1.41h-45.0zM183.9 278.67h2.8v1.41h-2.8zM283.7 278.67h15.5v1.41h-15.5zM303.4 278.67h35.1v1.41h-35.1zM372.2 278.67h40.8v1.41h-40.8zM428.5 278.67h5.6v1.41h-5.6zM442.5 278.67h8.4v1.41h-8.4zM498.7 278.67h57.6v1.41h-57.6zM61.6 280.08h74.5v1.41h-74.5zM160.0 280.08h26.7v1.41h-26.7zM220.4 280.08h22.5v1.41h-22.5zM278.1 280.08h15.5v1.41h-15.5zM313.2 280.08h50.6v1.41h-50.6zM370.8 280.08h37.9v1.41h-37.9zM439.7 280.08h37.9v1.41h-37.9zM495.9 280.08h68.9v1.41h-68.9zM68.6 281.49h28.1v1.41h-28.1zM102.4 281.49h11.2v1.41h-11.2zM123.5 281.49h8.4v1.41h-8.4zM161.4 281.49h25.3v1.41h-25.3zM231.7 281.49h28.1v1.41h-28.1zM318.8 281.49h18.3v1.41h-18.3zM351.2 281.49h56.2v1.41h-56.2zM438.3 281.49h42.2v1.41h-42.2zM497.3 281.49h22.5v1.41h-22.5zM535.3 281.49h25.3v1.41h-25.3zM63.0 282.90h18.3v1.41h-18.3zM124.9 282.90h16.9v1.41h-16.9zM153.0 282.90h5.6v1.41h-5.6zM172.6 282.90h9.8v1.41h-9.8zM193.7 282.90h7.0v1.41h-7.0zM210.6 282.90h52.0v1.41h-52.0zM276.7 282.90h14.1v1.41h-14.1zM313.2 282.90h26.7v1.41h-26.7zM355.4 282.90h45.0v1.41h-45.0zM438.3 282.90h50.6v1.41h-50.6zM546.5 282.90h11.2v1.41h-11.2zM81.3 284.31h12.6v1.41h-12.6zM119.2 284.31h35.1v1.41h-35.1zM212.0 284.31h50.6v1.41h-50.6zM275.3 284.31h22.5v1.41h-22.5zM306.2 284.31h35.1v1.41h-35.1zM352.6 284.31h37.9v1.41h-37.9zM429.9 284.31h42.2v1.41h-42.2zM93.9 285.72h19.7v1.41h-19.7zM131.9 285.72h39.4v1.41h-39.4zM199.4 285.72h49.2v1.41h-49.2zM276.7 285.72h33.7v1.41h-33.7zM317.4 285.72h26.7v1.41h-26.7zM354.0 285.72h45.0v1.41h-45.0zM449.5 285.72h15.5v1.41h-15.5zM92.5 287.13h12.6v1.41h-12.6zM153.0 287.13h21.1v1.41h-21.1zM188.1 287.13h42.2v1.41h-42.2zM233.1 287.13h18.3v1.41h-18.3zM262.6 287.13h19.7v1.41h-19.7zM318.8 287.13h14.1v1.41h-14.1zM369.4 287.13h45.0v1.41h-45.0zM449.5 287.13h14.1v1.41h-14.1zM474.8 287.13h11.2v1.41h-11.2zM491.7 287.13h30.9v1.41h-30.9zM531.1 287.13h7.0v1.41h-7.0zM58.8 288.54h28.1v1.41h-28.1zM113.6 288.54h15.5v1.41h-15.5zM145.9 288.54h85.7v1.41h-85.7zM309.0 288.54h22.5v1.41h-22.5zM362.4 288.54h22.5v1.41h-22.5zM397.5 288.54h19.7v1.41h-19.7zM455.2 288.54h7.0v1.41h-7.0zM494.5 288.54h29.5v1.41h-29.5zM563.4 288.54h1.4v1.41h-1.4zM58.8 289.96h52.0v1.41h-52.0zM145.9 289.96h33.7v1.41h-33.7zM214.8 289.96h25.3v1.41h-25.3zM285.1 289.96h73.1v1.41h-73.1zM362.4 289.96h53.4v1.41h-53.4zM432.7 289.96h39.4v1.41h-39.4zM488.9 289.96h33.7v1.41h-33.7zM552.1 289.96h12.6v1.41h-12.6zM58.8 291.37h16.9v1.41h-16.9zM106.6 291.37h16.9v1.41h-16.9zM145.9 291.37h30.9v1.41h-30.9zM214.8 291.37h19.7v1.41h-19.7zM269.6 291.37h68.9v1.41h-68.9zM363.8 291.37h15.5v1.41h-15.5zM387.7 291.37h11.2v1.41h-11.2zM427.1 291.37h42.2v1.41h-42.2zM500.1 291.37h64.7v1.41h-64.7zM58.8 292.78h60.4v1.41h-60.4zM160.0 292.78h47.8v1.41h-47.8zM223.2 292.78h12.6v1.41h-12.6zM317.4 292.78h21.1v1.41h-21.1zM362.4 292.78h21.1v1.41h-21.1zM389.1 292.78h80.1v1.41h-80.1zM512.8 292.78h30.9v1.41h-30.9zM556.4 292.78h8.4v1.41h-8.4zM58.8 294.19h15.5v1.41h-15.5zM119.2 294.19h8.4v1.41h-8.4zM138.9 294.19h9.8v1.41h-9.8zM161.4 294.19h8.4v1.41h-8.4zM190.9 294.19h74.5v1.41h-74.5zM317.4 294.19h33.7v1.41h-33.7zM370.8 294.19h9.8v1.41h-9.8zM390.5 294.19h9.8v1.41h-9.8zM410.2 294.19h88.5v1.41h-88.5zM515.6 294.19h5.6v1.41h-5.6zM560.6 294.19h4.2v1.41h-4.2z" fill="#00fcdc"/><polygon points="511.0,73.0 520.0,68.0 530.0,63.0 531.0,64.5 521.0,70.0 512.0,75.0" fill="#ffe600"/><polygon points="500.0,71.0 508.0,69.0 508.0,70.5 500.0,72.5" fill="#ffe600"/><polygon points="528.0,62.0 533.0,61.5 533.0,63.0 528.0,63.5" fill="#ff2000"/><polygon points="540.0,62.0 546.0,62.0 546.0,63.5 540.0,63.5" fill="#0000ff"/><polygon points="552.0,63.0 560.0,63.5 560.0,65.0 552.0,64.5" fill="#e00000"/><polygon points="556.0,65.5 563.0,66.0 563.0,67.5 556.0,67.0" fill="#8000d0"/><polygon points="545.0,60.0 550.0,60.0 550.0,61.3 545.0,61.3" fill="#0040ff"/><polygon points="470.0,77.0 476.0,76.0 476.0,77.5 470.0,78.5" fill="#ffe600"/><polygon points="481.0,76.0 486.0,75.5 486.0,77.0 481.0,77.5" fill="#ffe600"/><polygon points="443.0,78.5 447.0,78.5 447.0,80.0 443.0,80.0" fill="#e00000"/><polygon points="439.0,79.5 442.0,79.5 442.0,81.0 439.0,81.0" fill="#0040ff"/><polygon points="462.0,82.0 466.0,80.0 466.0,81.5 462.0,83.5" fill="#ffe600"/><polygon points="268.0,275.0 274.0,275.0 274.0,276.5 268.0,276.5" fill="#e00000"/><polygon points="274.0,276.5 281.0,276.5 281.0,278.0 274.0,278.0" fill="#0000ff"/><polygon points="281.0,275.5 285.0,275.5 285.0,277.0 281.0,277.0" fill="#ffe600"/><polygon points="130.0,238.5 133.0,238.5 133.0,240.0 130.0,240.0" fill="#0040ff"/><polygon points="133.0,238.5 135.0,238.5 135.0,240.0 133.0,240.0" fill="#ffa030"/><polygon points="232.0,225.0 234.0,225.0 234.0,226.5 232.0,226.5" fill="#ffe600"/><g mask="url(#Bm)"><polygon points="58.8,70.6 60.1,70.6 70.4,71.3 85.4,68.4 94.0,65.6 94.7,68.4 104.0,69.4 107.6,63.4 116.1,62.0 126.1,58.4 129.0,56.3 134.7,57.4 141.9,54.1 147.6,53.4 159.0,55.6 164.7,57.0 173.3,58.4 181.9,59.9 191.9,59.1 201.9,58.4 213.3,57.7 219.0,56.3 230.4,56.3 239.0,57.0 247.6,59.9 253.3,61.3 259.0,63.4 270.4,64.1 280.4,64.9 301.9,66.3 309.0,67.7 309.7,85.6 301.9,89.9 296.1,91.3 289.0,92.7 281.9,88.4 273.3,82.7 266.0,82.0 259.0,82.7 250.4,84.9 246.0,86.0 242.0,92.0 238.0,97.0 235.0,101.5 233.5,101.5 231.0,102.5 222.0,104.5 219.0,107.0 217.5,110.0 216.0,120.0 200.0,125.7 188.6,137.1 186.4,138.6 190.0,140.0 194.0,143.0 194.5,150.0 194.0,160.7 190.0,162.0 185.0,163.0 182.0,165.0 182.9,170.0 182.9,178.6 178.6,180.5 172.9,180.5 167.0,179.5 160.6,174.8 157.0,171.0 154.1,167.1 152.0,164.0 149.0,160.7 150.5,158.0 152.9,155.6 151.0,152.9 149.6,148.6 147.4,144.3 145.3,140.7 141.7,138.6 138.9,139.3 133.9,142.1 131.7,145.7 130.0,148.6 129.6,155.7 128.9,160.7 126.7,160.0 123.1,156.4 118.9,151.4 116.0,145.7 113.9,141.4 110.3,137.9 107.4,134.3 98.9,133.6 95.3,132.9 95.3,135.0 93.9,140.0 91.7,144.3 90.3,147.4 84.6,149.3 77.4,151.1 77.4,152.9 88.9,154.3 86.0,158.6 82.4,162.9 78.9,166.4 73.9,170.7 71.7,175.7 71.7,181.4 73.1,187.9 71.0,192.1 68.5,196.0 67.5,197.6 63.6,206.8 59.1,215.2 58.8,215.5" fill="#fff"/><polygon points="301.9,66.3 309.0,67.7 323.3,69.1 337.6,68.4 342.0,66.0 346.0,60.0 347.1,58.0 350.0,57.5 361.4,57.0 375.7,56.5 390.0,55.5 397.1,54.0 405.0,52.0 412.0,51.0 421.0,50.8 421.0,55.0 412.0,55.5 410.0,58.0 410.0,62.9 417.1,68.6 425.7,75.7 433.0,79.5 434.0,82.0 433.0,84.3 435.7,90.0 437.1,97.1 438.6,101.4 444.3,102.9 450.0,107.1 452.9,110.0 433.0,110.0 428.0,112.0 423.0,113.0 420.0,114.0 418.0,118.0 413.0,122.0 410.0,125.0 410.5,133.0 409.0,134.5 404.0,133.5 403.0,129.0 398.5,127.0 387.0,129.0 387.0,143.0 393.0,142.0 395.0,136.0 400.0,137.0 400.0,145.0 403.0,150.0 407.0,154.0 413.0,153.0 411.4,160.0 407.1,157.1 401.4,154.3 395.7,150.0 387.1,147.1 377.1,142.9 372.9,141.4 364.3,128.6 360.0,127.1 355.7,121.4 350.4,117.7 347.6,110.6 346.9,104.9 344.7,100.6 339.0,94.9 333.3,91.3 327.6,87.0 319.0,84.9 309.7,85.6" fill="#fff"/><polygon points="407.0,154.0 413.0,152.0 415.7,151.4 422.0,150.0 427.0,152.0 435.0,151.0 440.0,153.0 445.0,156.0 447.1,157.1 454.3,162.9 462.9,171.4 471.4,175.7 474.3,180.0 471.4,184.3 468.6,191.4 467.1,198.6 461.4,202.9 457.1,207.1 452.9,214.3 447.1,221.4 441.4,225.7 437.1,230.0 432.9,235.7 430.0,240.0 431.4,245.7 427.1,250.0 422.9,247.9 418.6,244.3 416.4,237.1 417.1,235.0 418.6,224.3 420.7,215.7 422.9,207.1 422.1,195.7 417.1,190.0 411.4,182.9 407.1,177.1 407.9,168.6 411.4,162.9 412.9,158.6 411.4,157.0" fill="#fff"/><polygon points="421.4,51.4 434.3,50.7 455.7,51.4 480.0,50.7 498.6,52.1 502.9,53.6 501.4,55.7 497.1,61.4 494.3,65.7 491.4,70.0 487.1,72.9 480.0,74.3 472.9,75.7 465.7,78.6 462.9,82.9 458.6,85.7 454.3,82.9 448.6,77.1 445.7,71.4 441.4,67.1 437.1,62.9 428.6,61.4 421.4,60.0 420.0,54.3" fill="#fff"/><polygon points="487.1,74.3 495.0,73.5 504.3,75.5 503.0,79.5 495.0,80.0 488.0,79.0" fill="#fff"/><polygon points="566.0,69.0 552.0,70.0 542.0,72.0 536.0,75.0 530.0,81.0 526.0,84.0 521.0,86.0 511.2,86.7 510.2,90.3 506.2,95.4 508.2,98.4 515.3,102.5 519.3,106.5 509.2,107.5 508.7,117.7 508.6,118.6 513.1,120.0 508.9,124.3 504.6,128.6 500.3,131.4 498.1,137.1 496.7,145.7 497.4,152.9 503.1,158.6 508.9,162.9 517.4,162.9 527.4,161.4 534.6,164.3 536.0,171.4 538.9,178.6 540.3,185.0 539.6,194.3 543.1,204.3 547.4,212.9 551.7,218.6 563.1,217.4 566.0,217.1" fill="#fff"/><polygon points="534.0,56.5 540.0,55.0 566.0,54.0 566.0,62.0 552.0,62.5 544.0,62.0 538.0,60.0" fill="#fff"/><polygon points="77.4,185.0 84.0,184.5 86.7,186.0 86.6,190.0 85.0,200.0 82.0,205.3 76.0,205.0 76.0,192.0" fill="#fff"/><polygon points="203.0,169.0 206.0,168.0 210.0,171.0 217.0,172.5 224.0,175.0 230.5,175.5 230.0,178.0 224.0,178.5 220.0,180.5 219.0,182.5 220.0,189.3 224.3,195.0 230.0,199.3 232.9,205.0 232.9,213.6 230.0,219.3 227.1,225.0 224.3,230.7 220.0,227.9 214.3,222.1 207.1,216.4 197.1,215.0 190.0,216.4 182.9,217.9 176.4,217.9 174.3,210.7 174.3,199.3 180.0,196.4 187.1,190.7 191.4,186.4 193.0,183.0 198.0,182.0 203.0,183.0 205.0,181.0 204.0,175.0" fill="#fff"/><polygon points="258.6,217.9 263.6,218.1 267.9,222.1 264.3,225.0 258.6,230.7 252.9,235.7 250.0,233.6 254.3,229.3 260.0,223.6" fill="#fff"/><polygon points="58.8,264.9 68.2,264.9 78.9,263.4 86.6,261.1 94.2,261.1 101.9,262.6 109.5,263.4 120.2,264.9 127.9,261.9 135.5,261.1 147.7,260.3 156.0,260.3 170.0,260.0 190.0,261.0 210.0,261.6 222.0,262.0 234.0,264.0 244.0,266.0 246.0,274.0 256.0,275.0 270.0,277.0 280.0,278.0 290.0,278.0 298.9,277.7 300.4,276.1 311.4,274.6 327.1,273.8 342.9,272.2 358.6,272.2 374.3,273.0 377.4,269.9 380.0,270.0 394.3,270.7 408.6,270.7 417.1,265.7 425.7,262.9 431.4,260.0 437.1,258.6 437.1,261.4 438.6,268.6 442.9,272.9 454.3,275.7 460.0,277.1 466.0,277.1 474.6,274.3 487.4,271.4 500.3,268.6 511.7,265.7 526.0,265.7 544.6,265.7 566.0,265.7 566.0,297.0 58.0,297.0" fill="#fff"/><polygon points="403.0,137.0 410.0,138.0 418.0,140.0 422.0,142.0 430.0,143.0 430.0,144.5 421.0,144.0 417.0,142.0 409.0,140.0 403.0,138.5" fill="#fff"/><polygon points="110.3,236.6 114.9,236.6 114.9,239.0 110.3,239.0" fill="#fff"/><polygon points="263.6,192.1 267.9,192.1 267.9,194.3 263.6,194.3" fill="#fff"/><polygon points="58.0,41.0 105.0,41.0 105.0,43.6 66.0,43.6 66.0,47.0 63.0,51.0 58.0,53.0" fill="#fff"/></g><polygon points="183.0,174.0 190.0,173.5 190.0,175.0 183.0,175.5" fill="#fff"/><polygon points="189.0,176.5 194.0,175.5 194.0,177.0 189.0,178.0" fill="#fff"/><polygon points="184.0,167.0 189.0,166.0 190.0,170.0 187.0,172.0 184.0,171.0" fill="#fff"/><rect x="59" y="42" width="506" height="1.4" fill="#fff"/></svg></g><g stroke="#000" stroke-width="1" fill="none"><line x1="58.50" y1="41.5" x2="58.50" y2="28.80"/><line x1="58.50" y1="295.5" x2="58.50" y2="308.20"/><line x1="72.56" y1="41.5" x2="72.56" y2="35.20"/><line x1="72.56" y1="295.5" x2="72.56" y2="301.80"/><line x1="86.61" y1="41.5" x2="86.61" y2="35.20"/><line x1="86.61" y1="295.5" x2="86.61" y2="301.80"/><line x1="100.67" y1="41.5" x2="100.67" y2="28.80"/><line x1="100.67" y1="295.5" x2="100.67" y2="308.20"/><line x1="114.72" y1="41.5" x2="114.72" y2="35.20"/><line x1="114.72" y1="295.5" x2="114.72" y2="301.80"/><line x1="128.78" y1="41.5" x2="128.78" y2="35.20"/><line x1="128.78" y1="295.5" x2="128.78" y2="301.80"/><line x1="142.83" y1="41.5" x2="142.83" y2="28.80"/><line x1="142.83" y1="295.5" x2="142.83" y2="308.20"/><line x1="156.89" y1="41.5" x2="156.89" y2="35.20"/><line x1="156.89" y1="295.5" x2="156.89" y2="301.80"/><line x1="170.94" y1="41.5" x2="170.94" y2="35.20"/><line x1="170.94" y1="295.5" x2="170.94" y2="301.80"/><line x1="185.00" y1="41.5" x2="185.00" y2="28.80"/><line x1="185.00" y1="295.5" x2="185.00" y2="308.20"/><line x1="199.06" y1="41.5" x2="199.06" y2="35.20"/><line x1="199.06" y1="295.5" x2="199.06" y2="301.80"/><line x1="213.11" y1="41.5" x2="213.11" y2="35.20"/><line x1="213.11" y1="295.5" x2="213.11" y2="301.80"/><line x1="227.17" y1="41.5" x2="227.17" y2="28.80"/><line x1="227.17" y1="295.5" x2="227.17" y2="308.20"/><line x1="241.22" y1="41.5" x2="241.22" y2="35.20"/><line x1="241.22" y1="295.5" x2="241.22" y2="301.80"/><line x1="255.28" y1="41.5" x2="255.28" y2="35.20"/><line x1="255.28" y1="295.5" x2="255.28" y2="301.80"/><line x1="269.33" y1="41.5" x2="269.33" y2="28.80"/><line x1="269.33" y1="295.5" x2="269.33" y2="308.20"/><line x1="283.39" y1="41.5" x2="283.39" y2="35.20"/><line x1="283.39" y1="295.5" x2="283.39" y2="301.80"/><line x1="297.44" y1="41.5" x2="297.44" y2="35.20"/><line x1="297.44" y1="295.5" x2="297.44" y2="301.80"/><line x1="311.50" y1="41.5" x2="311.50" y2="28.80"/><line x1="311.50" y1="295.5" x2="311.50" y2="308.20"/><line x1="325.56" y1="41.5" x2="325.56" y2="35.20"/><line x1="325.56" y1="295.5" x2="325.56" y2="301.80"/><line x1="339.61" y1="41.5" x2="339.61" y2="35.20"/><line x1="339.61" y1="295.5" x2="339.61" y2="301.80"/><line x1="353.67" y1="41.5" x2="353.67" y2="28.80"/><line x1="353.67" y1="295.5" x2="353.67" y2="308.20"/><line x1="367.72" y1="41.5" x2="367.72" y2="35.20"/><line x1="367.72" y1="295.5" x2="367.72" y2="301.80"/><line x1="381.78" y1="41.5" x2="381.78" y2="35.20"/><line x1="381.78" y1="295.5" x2="381.78" y2="301.80"/><line x1="395.83" y1="41.5" x2="395.83" y2="28.80"/><line x1="395.83" y1="295.5" x2="395.83" y2="308.20"/><line x1="409.89" y1="41.5" x2="409.89" y2="35.20"/><line x1="409.89" y1="295.5" x2="409.89" y2="301.80"/><line x1="423.94" y1="41.5" x2="423.94" y2="35.20"/><line x1="423.94" y1="295.5" x2="423.94" y2="301.80"/><line x1="438.00" y1="41.5" x2="438.00" y2="28.80"/><line x1="438.00" y1="295.5" x2="438.00" y2="308.20"/><line x1="452.06" y1="41.5" x2="452.06" y2="35.20"/><line x1="452.06" y1="295.5" x2="452.06" y2="301.80"/><line x1="466.11" y1="41.5" x2="466.11" y2="35.20"/><line x1="466.11" y1="295.5" x2="466.11" y2="301.80"/><line x1="480.17" y1="41.5" x2="480.17" y2="28.80"/><line x1="480.17" y1="295.5" x2="480.17" y2="308.20"/><line x1="494.22" y1="41.5" x2="494.22" y2="35.20"/><line x1="494.22" y1="295.5" x2="494.22" y2="301.80"/><line x1="508.28" y1="41.5" x2="508.28" y2="35.20"/><line x1="508.28" y1="295.5" x2="508.28" y2="301.80"/><line x1="522.33" y1="41.5" x2="522.33" y2="28.80"/><line x1="522.33" y1="295.5" x2="522.33" y2="308.20"/><line x1="536.39" y1="41.5" x2="536.39" y2="35.20"/><line x1="536.39" y1="295.5" x2="536.39" y2="301.80"/><line x1="550.44" y1="41.5" x2="550.44" y2="35.20"/><line x1="550.44" y1="295.5" x2="550.44" y2="301.80"/><line x1="564.50" y1="41.5" x2="564.50" y2="28.80"/><line x1="564.50" y1="295.5" x2="564.50" y2="308.20"/><line x1="58.5" y1="41.50" x2="45.80" y2="41.50"/><line x1="564.5" y1="41.50" x2="577.20" y2="41.50"/><line x1="58.5" y1="55.61" x2="52.20" y2="55.61"/><line x1="564.5" y1="55.61" x2="570.80" y2="55.61"/><line x1="58.5" y1="69.72" x2="52.20" y2="69.72"/><line x1="564.5" y1="69.72" x2="570.80" y2="69.72"/><line x1="58.5" y1="83.83" x2="45.80" y2="83.83"/><line x1="564.5" y1="83.83" x2="577.20" y2="83.83"/><line x1="58.5" y1="97.94" x2="52.20" y2="97.94"/><line x1="564.5" y1="97.94" x2="570.80" y2="97.94"/><line x1="58.5" y1="112.06" x2="52.20" y2="112.06"/><line x1="564.5" y1="112.06" x2="570.80" y2="112.06"/><line x1="58.5" y1="126.17" x2="45.80" y2="126.17"/><line x1="564.5" y1="126.17" x2="577.20" y2="126.17"/><line x1="58.5" y1="140.28" x2="52.20" y2="140.28"/><line x1="564.5" y1="140.28" x2="570.80" y2="140.28"/><line x1="58.5" y1="154.39" x2="52.20" y2="154.39"/><line x1="564.5" y1="154.39" x2="570.80" y2="154.39"/><line x1="58.5" y1="168.50" x2="45.80" y2="168.50"/><line x1="564.5" y1="168.50" x2="577.20" y2="168.50"/><line x1="58.5" y1="182.61" x2="52.20" y2="182.61"/><line x1="564.5" y1="182.61" x2="570.80" y2="182.61"/><line x1="58.5" y1="196.72" x2="52.20" y2="196.72"/><line x1="564.5" y1="196.72" x2="570.80" y2="196.72"/><line x1="58.5" y1="210.83" x2="45.80" y2="210.83"/><line x1="564.5" y1="210.83" x2="577.20" y2="210.83"/><line x1="58.5" y1="224.94" x2="52.20" y2="224.94"/><line x1="564.5" y1="224.94" x2="570.80" y2="224.94"/><line x1="58.5" y1="239.06" x2="52.20" y2="239.06"/><line x1="564.5" y1="239.06" x2="570.80" y2="239.06"/><line x1="58.5" y1="253.17" x2="45.80" y2="253.17"/><line x1="564.5" y1="253.17" x2="577.20" y2="253.17"/><line x1="58.5" y1="267.28" x2="52.20" y2="267.28"/><line x1="564.5" y1="267.28" x2="570.80" y2="267.28"/><line x1="58.5" y1="281.39" x2="52.20" y2="281.39"/><line x1="564.5" y1="281.39" x2="570.80" y2="281.39"/><line x1="58.5" y1="295.50" x2="45.80" y2="295.50"/><line x1="564.5" y1="295.50" x2="577.20" y2="295.50"/><rect x="58.5" y="41.5" width="506.0" height="254.0" fill="none"/></g><g style="font-family:'Liberation Sans',Arial,sans-serif;font-size:10.7px" fill="#000"><text x="58.50" y="324.10" text-anchor="middle">30E</text><text x="100.67" y="324.10" text-anchor="middle">60E</text><text x="142.83" y="324.10" text-anchor="middle">90E</text><text x="185.00" y="324.10" text-anchor="middle">120E</text><text x="227.17" y="324.10" text-anchor="middle">150E</text><text x="269.33" y="324.10" text-anchor="middle">180</text><text x="311.50" y="324.10" text-anchor="middle">150W</text><text x="353.67" y="324.10" text-anchor="middle">120W</text><text x="395.83" y="324.10" text-anchor="middle">90W</text><text x="438.00" y="324.10" text-anchor="middle">60W</text><text x="480.17" y="324.10" text-anchor="middle">30W</text><text x="522.33" y="324.10" text-anchor="middle">0</text><text x="564.50" y="324.10" text-anchor="middle">30E</text><text x="38.2" y="46.00" text-anchor="end">90N</text><text x="38.2" y="88.33" text-anchor="end">60N</text><text x="38.2" y="130.67" text-anchor="end">30N</text><text x="38.2" y="173.00" text-anchor="end">0</text><text x="38.2" y="215.33" text-anchor="end">30S</text><text x="38.2" y="257.67" text-anchor="end">60S</text><text x="38.2" y="300.00" text-anchor="end">90S</text></g><g stroke="#000" stroke-width="1" fill="none"><line x1="58.50" y1="391.5" x2="58.50" y2="378.80"/><line x1="58.50" y1="645.5" x2="58.50" y2="658.20"/><line x1="72.56" y1="391.5" x2="72.56" y2="385.20"/><line x1="72.56" y1="645.5" x2="72.56" y2="651.80"/><line x1="86.61" y1="391.5" x2="86.61" y2="385.20"/><line x1="86.61" y1="645.5" x2="86.61" y2="651.80"/><line x1="100.67" y1="391.5" x2="100.67" y2="378.80"/><line x1="100.67" y1="645.5" x2="100.67" y2="658.20"/><line x1="114.72" y1="391.5" x2="114.72" y2="385.20"/><line x1="114.72" y1="645.5" x2="114.72" y2="651.80"/><line x1="128.78" y1="391.5" x2="128.78" y2="385.20"/><line x1="128.78" y1="645.5" x2="128.78" y2="651.80"/><line x1="142.83" y1="391.5" x2="142.83" y2="378.80"/><line x1="142.83" y1="645.5" x2="142.83" y2="658.20"/><line x1="156.89" y1="391.5" x2="156.89" y2="385.20"/><line x1="156.89" y1="645.5" x2="156.89" y2="651.80"/><line x1="170.94" y1="391.5" x2="170.94" y2="385.20"/><line x1="170.94" y1="645.5" x2="170.94" y2="651.80"/><line x1="185.00" y1="391.5" x2="185.00" y2="378.80"/><line x1="185.00" y1="645.5" x2="185.00" y2="658.20"/><line x1="199.06" y1="391.5" x2="199.06" y2="385.20"/><line x1="199.06" y1="645.5" x2="199.06" y2="651.80"/><line x1="213.11" y1="391.5" x2="213.11" y2="385.20"/><line x1="213.11" y1="645.5" x2="213.11" y2="651.80"/><line x1="227.17" y1="391.5" x2="227.17" y2="378.80"/><line x1="227.17" y1="645.5" x2="227.17" y2="658.20"/><line x1="241.22" y1="391.5" x2="241.22" y2="385.20"/><line x1="241.22" y1="645.5" x2="241.22" y2="651.80"/><line x1="255.28" y1="391.5" x2="255.28" y2="385.20"/><line x1="255.28" y1="645.5" x2="255.28" y2="651.80"/><line x1="269.33" y1="391.5" x2="269.33" y2="378.80"/><line x1="269.33" y1="645.5" x2="269.33" y2="658.20"/><line x1="283.39" y1="391.5" x2="283.39" y2="385.20"/><line x1="283.39" y1="645.5" x2="283.39" y2="651.80"/><line x1="297.44" y1="391.5" x2="297.44" y2="385.20"/><line x1="297.44" y1="645.5" x2="297.44" y2="651.80"/><line x1="311.50" y1="391.5" x2="311.50" y2="378.80"/><line x1="311.50" y1="645.5" x2="311.50" y2="658.20"/><line x1="325.56" y1="391.5" x2="325.56" y2="385.20"/><line x1="325.56" y1="645.5" x2="325.56" y2="651.80"/><line x1="339.61" y1="391.5" x2="339.61" y2="385.20"/><line x1="339.61" y1="645.5" x2="339.61" y2="651.80"/><line x1="353.67" y1="391.5" x2="353.67" y2="378.80"/><line x1="353.67" y1="645.5" x2="353.67" y2="658.20"/><line x1="367.72" y1="391.5" x2="367.72" y2="385.20"/><line x1="367.72" y1="645.5" x2="367.72" y2="651.80"/><line x1="381.78" y1="391.5" x2="381.78" y2="385.20"/><line x1="381.78" y1="645.5" x2="381.78" y2="651.80"/><line x1="395.83" y1="391.5" x2="395.83" y2="378.80"/><line x1="395.83" y1="645.5" x2="395.83" y2="658.20"/><line x1="409.89" y1="391.5" x2="409.89" y2="385.20"/><line x1="409.89" y1="645.5" x2="409.89" y2="651.80"/><line x1="423.94" y1="391.5" x2="423.94" y2="385.20"/><line x1="423.94" y1="645.5" x2="423.94" y2="651.80"/><line x1="438.00" y1="391.5" x2="438.00" y2="378.80"/><line x1="438.00" y1="645.5" x2="438.00" y2="658.20"/><line x1="452.06" y1="391.5" x2="452.06" y2="385.20"/><line x1="452.06" y1="645.5" x2="452.06" y2="651.80"/><line x1="466.11" y1="391.5" x2="466.11" y2="385.20"/><line x1="466.11" y1="645.5" x2="466.11" y2="651.80"/><line x1="480.17" y1="391.5" x2="480.17" y2="378.80"/><line x1="480.17" y1="645.5" x2="480.17" y2="658.20"/><line x1="494.22" y1="391.5" x2="494.22" y2="385.20"/><line x1="494.22" y1="645.5" x2="494.22" y2="651.80"/><line x1="508.28" y1="391.5" x2="508.28" y2="385.20"/><line x1="508.28" y1="645.5" x2="508.28" y2="651.80"/><line x1="522.33" y1="391.5" x2="522.33" y2="378.80"/><line x1="522.33" y1="645.5" x2="522.33" y2="658.20"/><line x1="536.39" y1="391.5" x2="536.39" y2="385.20"/><line x1="536.39" y1="645.5" x2="536.39" y2="651.80"/><line x1="550.44" y1="391.5" x2="550.44" y2="385.20"/><line x1="550.44" y1="645.5" x2="550.44" y2="651.80"/><line x1="564.50" y1="391.5" x2="564.50" y2="378.80"/><line x1="564.50" y1="645.5" x2="564.50" y2="658.20"/><line x1="58.5" y1="391.50" x2="45.80" y2="391.50"/><line x1="564.5" y1="391.50" x2="577.20" y2="391.50"/><line x1="58.5" y1="405.61" x2="52.20" y2="405.61"/><line x1="564.5" y1="405.61" x2="570.80" y2="405.61"/><line x1="58.5" y1="419.72" x2="52.20" y2="419.72"/><line x1="564.5" y1="419.72" x2="570.80" y2="419.72"/><line x1="58.5" y1="433.83" x2="45.80" y2="433.83"/><line x1="564.5" y1="433.83" x2="577.20" y2="433.83"/><line x1="58.5" y1="447.94" x2="52.20" y2="447.94"/><line x1="564.5" y1="447.94" x2="570.80" y2="447.94"/><line x1="58.5" y1="462.06" x2="52.20" y2="462.06"/><line x1="564.5" y1="462.06" x2="570.80" y2="462.06"/><line x1="58.5" y1="476.17" x2="45.80" y2="476.17"/><line x1="564.5" y1="476.17" x2="577.20" y2="476.17"/><line x1="58.5" y1="490.28" x2="52.20" y2="490.28"/><line x1="564.5" y1="490.28" x2="570.80" y2="490.28"/><line x1="58.5" y1="504.39" x2="52.20" y2="504.39"/><line x1="564.5" y1="504.39" x2="570.80" y2="504.39"/><line x1="58.5" y1="518.50" x2="45.80" y2="518.50"/><line x1="564.5" y1="518.50" x2="577.20" y2="518.50"/><line x1="58.5" y1="532.61" x2="52.20" y2="532.61"/><line x1="564.5" y1="532.61" x2="570.80" y2="532.61"/><line x1="58.5" y1="546.72" x2="52.20" y2="546.72"/><line x1="564.5" y1="546.72" x2="570.80" y2="546.72"/><line x1="58.5" y1="560.83" x2="45.80" y2="560.83"/><line x1="564.5" y1="560.83" x2="577.20" y2="560.83"/><line x1="58.5" y1="574.94" x2="52.20" y2="574.94"/><line x1="564.5" y1="574.94" x2="570.80" y2="574.94"/><line x1="58.5" y1="589.06" x2="52.20" y2="589.06"/><line x1="564.5" y1="589.06" x2="570.80" y2="589.06"/><line x1="58.5" y1="603.17" x2="45.80" y2="603.17"/><line x1="564.5" y1="603.17" x2="577.20" y2="603.17"/><line x1="58.5" y1="617.28" x2="52.20" y2="617.28"/><line x1="564.5" y1="617.28" x2="570.80" y2="617.28"/><line x1="58.5" y1="631.39" x2="52.20" y2="631.39"/><line x1="564.5" y1="631.39" x2="570.80" y2="631.39"/><line x1="58.5" y1="645.50" x2="45.80" y2="645.50"/><line x1="564.5" y1="645.50" x2="577.20" y2="645.50"/><rect x="58.5" y="391.5" width="506.0" height="254.0" fill="none"/></g><g style="font-family:'Liberation Sans',Arial,sans-serif;font-size:10.7px" fill="#000"><text x="58.50" y="674.10" text-anchor="middle">30E</text><text x="100.67" y="674.10" text-anchor="middle">60E</text><text x="142.83" y="674.10" text-anchor="middle">90E</text><text x="185.00" y="674.10" text-anchor="middle">120E</text><text x="227.17" y="674.10" text-anchor="middle">150E</text><text x="269.33" y="674.10" text-anchor="middle">180</text><text x="311.50" y="674.10" text-anchor="middle">150W</text><text x="353.67" y="674.10" text-anchor="middle">120W</text><text x="395.83" y="674.10" text-anchor="middle">90W</text><text x="438.00" y="674.10" text-anchor="middle">60W</text><text x="480.17" y="674.10" text-anchor="middle">30W</text><text x="522.33" y="674.10" text-anchor="middle">0</text><text x="564.50" y="674.10" text-anchor="middle">30E</text><text x="38.2" y="396.00" text-anchor="end">90N</text><text x="38.2" y="438.33" text-anchor="end">60N</text><text x="38.2" y="480.67" text-anchor="end">30N</text><text x="38.2" y="523.00" text-anchor="end">0</text><text x="38.2" y="565.33" text-anchor="end">30S</text><text x="38.2" y="607.67" text-anchor="end">60S</text><text x="38.2" y="650.00" text-anchor="end">90S</text></g><g style="font-family:'Liberation Sans',Arial,sans-serif;font-size:10.7px"><rect x="601.9" y="52.50" width="29.90" height="11.60" fill="#c00000"/><rect x="601.9" y="64.10" width="29.90" height="11.60" fill="#e00000"/><rect x="601.9" y="75.70" width="29.90" height="11.60" fill="#ff2000"/><rect x="601.9" y="87.30" width="29.90" height="11.60" fill="#f08800"/><rect x="601.9" y="98.90" width="29.90" height="11.60" fill="#f89828"/><rect x="601.9" y="110.50" width="29.90" height="11.60" fill="#ffa838"/><rect x="601.9" y="122.10" width="29.90" height="11.60" fill="#ffd030"/><rect x="601.9" y="133.70" width="29.90" height="11.60" fill="#ffff00"/><rect x="601.9" y="145.30" width="29.90" height="11.60" fill="#55fc00"/><rect x="601.9" y="156.90" width="29.90" height="11.60" fill="#00fc55"/><rect x="601.9" y="168.50" width="29.90" height="11.60" fill="#00fcdc"/><rect x="601.9" y="180.10" width="29.90" height="11.60" fill="#00ffff"/><rect x="601.9" y="191.70" width="29.90" height="11.60" fill="#18e0ff"/><rect x="601.9" y="203.30" width="29.90" height="11.60" fill="#00beff"/><rect x="601.9" y="214.90" width="29.90" height="11.60" fill="#0080ff"/><rect x="601.9" y="226.50" width="29.90" height="11.60" fill="#0000ff"/><rect x="601.9" y="238.10" width="29.90" height="11.60" fill="#8000d0"/><rect x="601.9" y="249.70" width="29.90" height="11.60" fill="#e800e8"/><rect x="601.9" y="261.30" width="29.90" height="11.60" fill="#d0d0d0"/><rect x="601.9" y="272.90" width="29.90" height="11.60" fill="#707070"/><line x1="601.9" y1="64.10" x2="631.8" y2="64.10" stroke="#000" stroke-width="0.8"/><line x1="601.9" y1="75.70" x2="631.8" y2="75.70" stroke="#000" stroke-width="0.8"/><line x1="601.9" y1="87.30" x2="631.8" y2="87.30" stroke="#000" stroke-width="0.8"/><line x1="601.9" y1="98.90" x2="631.8" y2="98.90" stroke="#000" stroke-width="0.8"/><line x1="601.9" y1="110.50" x2="631.8" y2="110.50" stroke="#000" stroke-width="0.8"/><line x1="601.9" y1="122.10" x2="631.8" y2="122.10" stroke="#000" stroke-width="0.8"/><line x1="601.9" y1="133.70" x2="631.8" y2="133.70" stroke="#000" stroke-width="0.8"/><line x1="601.9" y1="145.30" x2="631.8" y2="145.30" stroke="#000" stroke-width="0.8"/><line x1="601.9" y1="156.90" x2="631.8" y2="156.90" stroke="#000" stroke-width="0.8"/><line x1="601.9" y1="168.50" x2="631.8" y2="168.50" stroke="#000" stroke-width="0.8"/><line x1="601.9" y1="180.10" x2="631.8" y2="180.10" stroke="#000" stroke-width="0.8"/><line x1="601.9" y1="191.70" x2="631.8" y2="191.70" stroke="#000" stroke-width="0.8"/><line x1="601.9" y1="203.30" x2="631.8" y2="203.30" stroke="#000" stroke-width="0.8"/><line x1="601.9" y1="214.90" x2="631.8" y2="214.90" stroke="#000" stroke-width="0.8"/><line x1="601.9" y1="226.50" x2="631.8" y2="226.50" stroke="#000" stroke-width="0.8"/><line x1="601.9" y1="238.10" x2="631.8" y2="238.10" stroke="#000" stroke-width="0.8"/><line x1="601.9" y1="249.70" x2="631.8" y2="249.70" stroke="#000" stroke-width="0.8"/><line x1="601.9" y1="261.30" x2="631.8" y2="261.30" stroke="#000" stroke-width="0.8"/><line x1="601.9" y1="272.90" x2="631.8" y2="272.90" stroke="#000" stroke-width="0.8"/><rect x="601.9" y="52.5" width="29.90" height="232.00" fill="none" stroke="#555" stroke-width="0.8"/><text x="650.3" y="57.20" text-anchor="middle">2</text><text x="650.3" y="80.40" text-anchor="middle">1.6</text><text x="650.3" y="103.60" text-anchor="middle">1.2</text><text x="650.3" y="126.80" text-anchor="middle">0.8</text><text x="650.3" y="150.00" text-anchor="middle">0.4</text><text x="650.3" y="173.20" text-anchor="middle">0</text><text x="650.3" y="196.40" text-anchor="middle">-0.4</text><text x="650.3" y="219.60" text-anchor="middle">-0.8</text><text x="650.3" y="242.80" text-anchor="middle">-1.2</text><text x="650.3" y="266.00" text-anchor="middle">-1.6</text><text x="650.3" y="289.20" text-anchor="middle">-2</text></g><g style="font-family:'Liberation Sans',Arial,sans-serif;font-size:10.7px"><rect x="601.9" y="402.50" width="29.90" height="11.60" fill="#c00000"/><rect x="601.9" y="414.10" width="29.90" height="11.60" fill="#e00000"/><rect x="601.9" y="425.70" width="29.90" height="11.60" fill="#ff2000"/><rect x="601.9" y="437.30" width="29.90" height="11.60" fill="#f08800"/><rect x="601.9" y="448.90" width="29.90" height="11.60" fill="#f89828"/><rect x="601.9" y="460.50" width="29.90" height="11.60" fill="#ffa838"/><rect x="601.9" y="472.10" width="29.90" height="11.60" fill="#ffd030"/><rect x="601.9" y="483.70" width="29.90" height="11.60" fill="#ffff00"/><rect x="601.9" y="495.30" width="29.90" height="11.60" fill="#55fc00"/><rect x="601.9" y="506.90" width="29.90" height="11.60" fill="#00fc55"/><rect x="601.9" y="518.50" width="29.90" height="11.60" fill="#00fcdc"/><rect x="601.9" y="530.10" width="29.90" height="11.60" fill="#00ffff"/><rect x="601.9" y="541.70" width="29.90" height="11.60" fill="#18e0ff"/><rect x="601.9" y="553.30" width="29.90" height="11.60" fill="#00beff"/><rect x="601.9" y="564.90" width="29.90" height="11.60" fill="#0080ff"/><rect x="601.9" y="576.50" width="29.90" height="11.60" fill="#0000ff"/><rect x="601.9" y="588.10" width="29.90" height="11.60" fill="#8000d0"/><rect x="601.9" y="599.70" width="29.90" height="11.60" fill="#e800e8"/><rect x="601.9" y="611.30" width="29.90" height="11.60" fill="#d0d0d0"/><rect x="601.9" y="622.90" width="29.90" height="11.60" fill="#707070"/><line x1="601.9" y1="414.10" x2="631.8" y2="414.10" stroke="#000" stroke-width="0.8"/><line x1="601.9" y1="425.70" x2="631.8" y2="425.70" stroke="#000" stroke-width="0.8"/><line x1="601.9" y1="437.30" x2="631.8" y2="437.30" stroke="#000" stroke-width="0.8"/><line x1="601.9" y1="448.90" x2="631.8" y2="448.90" stroke="#000" stroke-width="0.8"/><line x1="601.9" y1="460.50" x2="631.8" y2="460.50" stroke="#000" stroke-width="0.8"/><line x1="601.9" y1="472.10" x2="631.8" y2="472.10" stroke="#000" stroke-width="0.8"/><line x1="601.9" y1="483.70" x2="631.8" y2="483.70" stroke="#000" stroke-width="0.8"/><line x1="601.9" y1="495.30" x2="631.8" y2="495.30" stroke="#000" stroke-width="0.8"/><line x1="601.9" y1="506.90" x2="631.8" y2="506.90" stroke="#000" stroke-width="0.8"/><line x1="601.9" y1="518.50" x2="631.8" y2="518.50" stroke="#000" stroke-width="0.8"/><line x1="601.9" y1="530.10" x2="631.8" y2="530.10" stroke="#000" stroke-width="0.8"/><line x1="601.9" y1="541.70" x2="631.8" y2="541.70" stroke="#000" stroke-width="0.8"/><line x1="601.9" y1="553.30" x2="631.8" y2="553.30" stroke="#000" stroke-width="0.8"/><line x1="601.9" y1="564.90" x2="631.8" y2="564.90" stroke="#000" stroke-width="0.8"/><line x1="601.9" y1="576.50" x2="631.8" y2="576.50" stroke="#000" stroke-width="0.8"/><line x1="601.9" y1="588.10" x2="631.8" y2="588.10" stroke="#000" stroke-width="0.8"/><line x1="601.9" y1="599.70" x2="631.8" y2="599.70" stroke="#000" stroke-width="0.8"/><line x1="601.9" y1="611.30" x2="631.8" y2="611.30" stroke="#000" stroke-width="0.8"/><line x1="601.9" y1="622.90" x2="631.8" y2="622.90" stroke="#000" stroke-width="0.8"/><rect x="601.9" y="402.5" width="29.90" height="232.00" fill="none" stroke="#555" stroke-width="0.8"/><text x="650.3" y="407.20" text-anchor="middle">0.5</text><text x="650.3" y="430.40" text-anchor="middle">0.4</text><text x="650.3" y="453.60" text-anchor="middle">0.3</text><text x="650.3" y="476.80" text-anchor="middle">0.2</text><text x="650.3" y="500.00" text-anchor="middle">0.1</text><text x="650.3" y="523.20" text-anchor="middle">0</text><text x="650.3" y="546.40" text-anchor="middle">-0.1</text><text x="650.3" y="569.60" text-anchor="middle">-0.2</text><text x="650.3" y="592.80" text-anchor="middle">-0.3</text><text x="650.3" y="616.00" text-anchor="middle">-0.4</text><text x="650.3" y="639.20" text-anchor="middle">-0.5</text></g><rect x="223.5" y="328.5" width="177" height="17.6" fill="#fff" stroke="#6a6a6a" stroke-width="1"/><g style="font-family:'Liberation Sans',Arial,sans-serif" fill="#000"><text x="225.6" y="341.4" style="font-size:10.2px" textLength="134.0" lengthAdjust="spacing">-11.495 to 15.347 by .2 x10</text><text x="360.8" y="336.3" style="font-size:6.6px" textLength="5.8" lengthAdjust="spacingAndGlyphs">-3</text><text x="370" y="341.4" style="font-size:10.2px" textLength="22.9" lengthAdjust="spacing">cm s</text><text x="393.6" y="336.3" style="font-size:6.6px" textLength="4.8" lengthAdjust="spacingAndGlyphs">-1</text></g><rect x="223.5" y="678.5" width="177" height="17.6" fill="#fff" stroke="#6a6a6a" stroke-width="1"/><g style="font-family:'Liberation Sans',Arial,sans-serif" fill="#000"><text x="225.6" y="691.4" style="font-size:10.2px" textLength="133.4" lengthAdjust="spacing">-.9179 to 1.2034 by .05 x10</text><text x="360.8" y="686.3" style="font-size:6.6px" textLength="5.8" lengthAdjust="spacingAndGlyphs">-3</text><text x="370" y="691.4" style="font-size:10.2px" textLength="22.9" lengthAdjust="spacing">cm s</text><text x="393.6" y="686.3" style="font-size:6.6px" textLength="4.8" lengthAdjust="spacingAndGlyphs">-1</text></g><text x="58.8" y="26.0" style="font-family:'Liberation Sans',Arial,sans-serif;font-size:13.85px">WISOP at z= 100.0m, b.e21.B1850.f19_g17.CMIP6-piControl-2deg.002 [901-1000]</text><text x="554" y="12.9" style="font-family:'Liberation Sans',Arial,sans-serif;font-size:13.8px">mean = 2.572e-12</text><text x="554" y="28.5" style="font-family:'Liberation Sans',Arial,sans-serif;font-size:13.8px">rms = 0.2649</text><text x="58.8" y="376.0" style="font-family:'Liberation Sans',Arial,sans-serif;font-size:13.85px">b.e21.B1850.f19_g17.CMIP6-piControl-2deg.002 [901-1000] - b.e21.B1850.f19_g17.CMIP6-piControl-2deg.002 [901-1000]</text><text x="554" y="362.9" style="font-family:'Liberation Sans',Arial,sans-serif;font-size:13.8px">mean = 1.133e-10</text><text x="554" y="378.5" style="font-family:'Liberation Sans',Arial,sans-serif;font-size:13.8px">rms = 0.02103</text>
</svg></body></html>
